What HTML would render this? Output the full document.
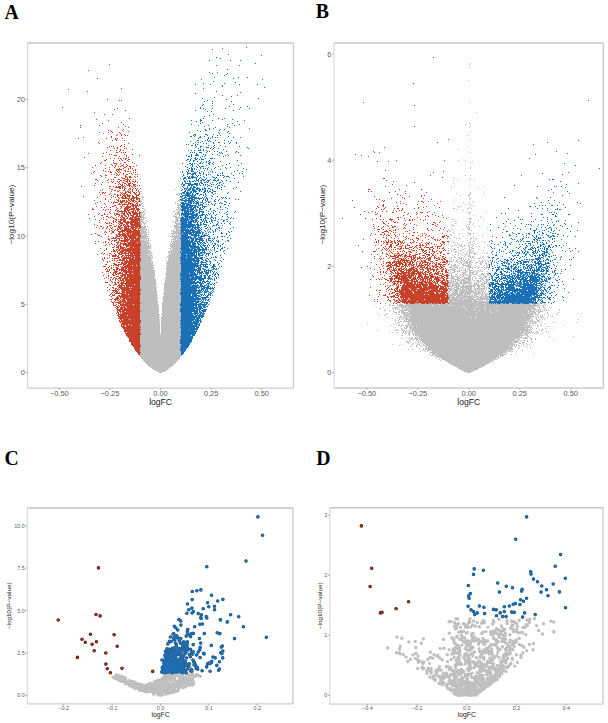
<!DOCTYPE html><html><head><meta charset="utf-8"><style>html,body{margin:0;padding:0;background:#fff}svg{display:block;font-family:"Liberation Sans",sans-serif}</style></head><body><svg width="608" height="723" viewBox="0 0 608 723"><rect width="608" height="723" fill="#fff"/><path d="M470 63.5h1M469 64.5h1M469 67.5h1M468 80.5h1M469 102.5h1M476 112.5h1M469 123.5h1M465 124.5h1M470 125.5h1M469 127.5h1M470 131.5h1M468 135.5h1M470 139.5h1M468 146.5h1M458 149.5h1M470 152.5h1M462 158.5h1M458 160.5h1m6 0h1M472 161.5h1M470 162.5h1M470 167.5h1M470 168.5h1M180 172.5h1M465 175.5h1m4 0h1M140 178.5h1m313 0h1m14 0h1M470 179.5h1M453 180.5h1m3 0h1m16 0h1M179 181.5h1M179 183.5h1m273 0h1M454 185.5h1m14 0h1M484 186.5h1M180 187.5h1m270 0h1m26 0h1M175 189.5h1M140 191.5h2M470 192.5h1M141 193.5h1m36 0h3m275 0h1m13 0h1m12 0h1M176 194.5h2m1 0h1m289 0h1M178 195.5h1m281 0h1m7 0h2M142 196.5h1M141 197.5h3m33 0h1m2 0h1m288 0h1M454 198.5h1m15 0h1M142 199.5h1m36 0h1m289 0h1M140 200.5h1m37 0h3M140 201.5h2m35 0h1m1 0h1m273 0h1m18 0h1M140 202.5h1m34 0h1m4 0h1m282 0h1m5 0h1m3 0h1M141 203.5h2m32 0h1m1 0h2M140 204.5h2m35 0h1m287 0h1m3 0h1M140 205.5h1m36 0h4m290 0h1m1 0h1M142 206.5h2m34 0h1m1 0h1m277 0h1m2 0h1M177 207.5h3m279 0h1m9 0h1M142 208.5h2m34 0h3m272 0h2m12 0h2m2 0h1M144 209.5h1m31 0h3m1 0h1m275 0h1M177 210.5h1m1 0h2m282 0h1M143 211.5h2m28 0h2m3 0h2m306 0h1M141 212.5h3m32 0h5m286 0h1m1 0h2M140 213.5h1m1 0h1m1 0h1m30 0h1m1 0h3m289 0h1M140 214.5h2m1 0h2m30 0h5m289 0h1M140 215.5h2m1 0h1m30 0h1m4 0h2m292 0h1M141 216.5h1m1 0h1m29 0h4m2 0h1m301 0h1M141 217.5h4m30 0h5m268 0h1m31 0h1M141 218.5h1m1 0h1m1 0h1m30 0h3m289 0h1m1 0h2M140 219.5h4m31 0h3m2 0h1m271 0h1m1 0h1m14 0h2m12 0h1M140 220.5h3m3 0h1m29 0h4m298 0h1M140 221.5h3m4 0h1m25 0h1m1 0h3m2 0h1m274 0h1m13 0h2M140 222.5h1m1 0h2m1 0h1m28 0h2m1 0h1m1 0h2m275 0h1m13 0h1M140 223.5h2m1 0h3m29 0h6m274 0h1m13 0h1m3 0h1M140 224.5h2m2 0h1m31 0h5m271 0h1m14 0h1m1 0h1m2 0h1M144 225.5h1m28 0h5m1 0h2m270 0h1m1 0h2M141 226.5h2m1 0h2m1 0h1m22 0h1m3 0h5m1 0h1m285 0h1m1 0h1m5 0h1m4 0h1M141 227.5h5m28 0h6m271 0h1m16 0h2M140 228.5h5m30 0h6m286 0h1m1 0h1m17 0h1M140 229.5h7m1 0h1m25 0h1m1 0h3m1 0h1m267 0h1m3 0h1m10 0h1m4 0h2M140 230.5h4m1 0h2m25 0h2m2 0h4m269 0h1m21 0h1M141 231.5h5m2 0h1m22 0h1m1 0h8m269 0h1M140 232.5h7m1 0h1m24 0h8m272 0h1m13 0h1M140 233.5h5m1 0h1m24 0h9m282 0h1m5 0h3m2 0h1M140 234.5h3m1 0h3m1 0h1m23 0h2m2 0h1m1 0h3m269 0h1m8 0h1m9 0h2m12 0h1M141 235.5h6m25 0h1m1 0h7m270 0h1m15 0h1M141 236.5h8m19 0h1m1 0h11m282 0h1m9 0h1m8 0h1M140 237.5h7m25 0h1m1 0h7m268 0h1m4 0h1m4 0h1M140 238.5h9m24 0h7m270 0h1m5 0h1m3 0h1m9 0h2m1 0h1m2 0h1M140 239.5h2m1 0h2m1 0h1m1 0h1m22 0h5m1 0h4m289 0h1m4 0h1M140 240.5h5m1 0h3m1 0h1m20 0h1m2 0h7m271 0h1m14 0h1m5 0h1M140 241.5h7m1 0h1m22 0h10m281 0h1m7 0h1m3 0h1m7 0h1M141 242.5h8m22 0h1m1 0h8m267 0h1m4 0h2m14 0h2m1 0h1m11 0h1M140 243.5h10m20 0h1m1 0h9m276 0h1m10 0h1m5 0h1M141 244.5h6m1 0h1m1 0h1m19 0h11m267 0h1m6 0h1m2 0h1m2 0h1m8 0h1m1 0h1M141 245.5h8m1 0h1m18 0h1m1 0h10m271 0h1m1 0h1m1 0h1m2 0h1m1 0h1m2 0h2m2 0h2m3 0h1m13 0h1M140 246.5h11m19 0h11m270 0h1m8 0h3m5 0h1m3 0h1m3 0h1m2 0h1M140 247.5h11m20 0h10m276 0h2m10 0h1m1 0h1m12 0h1M140 248.5h11m18 0h2m1 0h8m268 0h1m1 0h1m3 0h1m9 0h1m4 0h1m2 0h2M141 249.5h7m23 0h1m1 0h8m272 0h3m6 0h2m5 0h1m1 0h1m6 0h1M140 250.5h11m19 0h11m267 0h1m2 0h1m1 0h1m4 0h1m1 0h2m7 0h2m2 0h1m9 0h1M140 251.5h10m18 0h12m268 0h1m2 0h1m3 0h2m10 0h1m1 0h2m1 0h1M141 252.5h11m16 0h2m1 0h9m274 0h2m2 0h1m4 0h1m5 0h3m2 0h1m7 0h1m4 0h1M140 253.5h10m1 0h1m17 0h12m268 0h1m8 0h1m1 0h1m5 0h2m1 0h1m3 0h4m7 0h1m2 0h1M140 254.5h8m1 0h2m1 0h1m16 0h12m274 0h1m5 0h1m2 0h1m1 0h1m2 0h1m4 0h1M141 255.5h8m1 0h2m16 0h13m271 0h1m5 0h1m3 0h1m2 0h1m2 0h2M140 256.5h11m1 0h1m14 0h14m273 0h1m9 0h1m3 0h3m1 0h2m9 0h1m3 0h2M140 257.5h12m14 0h1m2 0h11m269 0h1m1 0h1m2 0h2m2 0h2m1 0h1m3 0h1m4 0h1m1 0h2m6 0h1m1 0h1m5 0h1M141 258.5h10m1 0h1m15 0h12m271 0h1m7 0h3m1 0h1m4 0h1m2 0h1m2 0h1m3 0h2m3 0h1m4 0h1M141 259.5h11m16 0h13m268 0h1m3 0h1m3 0h2m2 0h1m1 0h1m1 0h1m2 0h2m14 0h1M141 260.5h11m14 0h1m1 0h12m271 0h1m1 0h1m2 0h1m3 0h2m2 0h1m2 0h1m2 0h2m1 0h1m5 0h1m2 0h1m4 0h1M140 261.5h11m1 0h1m14 0h14m267 0h4m3 0h3m1 0h1m2 0h3m1 0h2m1 0h2m10 0h2m2 0h1m2 0h1M140 262.5h13m14 0h14m271 0h1m4 0h1m2 0h2m3 0h3m1 0h4m3 0h2m2 0h1m1 0h1m5 0h1M140 263.5h13m13 0h14m269 0h1m9 0h1m1 0h1m1 0h2m1 0h2m1 0h2m4 0h1m4 0h2m3 0h2M140 264.5h13m14 0h14m270 0h1m2 0h2m6 0h2m4 0h2m1 0h1m8 0h2m4 0h1m1 0h1M140 265.5h15m11 0h15m270 0h1m1 0h3m1 0h2m4 0h3m1 0h4m4 0h1m8 0h1m2 0h1M140 266.5h13m14 0h14m268 0h1m1 0h1m1 0h2m1 0h1m6 0h1m2 0h5m5 0h1m1 0h1m7 0h1M141 267.5h13m12 0h15m268 0h3m2 0h4m1 0h1m1 0h2m5 0h5m1 0h2m2 0h1m3 0h1m1 0h1m1 0h3M140 268.5h14m12 0h15m271 0h2m3 0h1m1 0h1m2 0h1m2 0h1m1 0h1m1 0h1m2 0h1m5 0h1m6 0h1m2 0h1M141 269.5h12m13 0h15m268 0h7m4 0h1m4 0h1m2 0h2m14 0h1m3 0h1M140 270.5h15m12 0h14m272 0h2m2 0h1m1 0h1m1 0h1m1 0h3m1 0h1m1 0h4m4 0h2m1 0h1M140 271.5h15m11 0h15m269 0h1m3 0h2m1 0h3m5 0h2m2 0h2m2 0h2m1 0h1m2 0h1m1 0h2m4 0h1M140 272.5h15m11 0h15m267 0h1m1 0h1m1 0h3m7 0h4m3 0h5m2 0h2m10 0h1M140 273.5h15m11 0h14m268 0h2m1 0h1m5 0h1m5 0h1m1 0h2m2 0h2m1 0h2m2 0h1m4 0h2m1 0h1m1 0h3M140 274.5h15m10 0h15m271 0h1m3 0h2m3 0h5m2 0h1m1 0h2m1 0h1m1 0h3m4 0h3m3 0h2M140 275.5h15m11 0h14m269 0h1m1 0h1m5 0h1m2 0h1m2 0h1m1 0h3m1 0h1m1 0h1m6 0h1m1 0h1m2 0h2m2 0h2M141 276.5h14m11 0h15m267 0h1m2 0h3m1 0h3m1 0h1m2 0h2m4 0h3m2 0h2m4 0h1m1 0h1m2 0h3M141 277.5h13m11 0h15m270 0h4m3 0h2m1 0h1m1 0h1m1 0h2m1 0h4m1 0h1m7 0h1m2 0h1m1 0h2M141 278.5h14m10 0h16m267 0h2m1 0h3m3 0h3m2 0h1m1 0h7m1 0h1m2 0h2m2 0h5M141 279.5h15m8 0h1m1 0h14m271 0h1m1 0h6m1 0h1m1 0h3m1 0h5m1 0h1m8 0h2m2 0h4M140 280.5h16m9 0h16m267 0h2m1 0h1m1 0h1m1 0h1m1 0h3m1 0h5m1 0h4m2 0h2m1 0h3m1 0h1m1 0h2m2 0h3M140 281.5h16m9 0h15m268 0h1m1 0h4m1 0h1m1 0h1m1 0h3m1 0h5m1 0h2m6 0h4m3 0h4M140 282.5h16m9 0h16m268 0h3m1 0h2m1 0h2m2 0h2m1 0h7m1 0h1m2 0h1m1 0h1m1 0h1m3 0h1m1 0h1m1 0h1m1 0h1M140 283.5h16m8 0h17m267 0h3m1 0h2m1 0h17m2 0h3m1 0h1m2 0h2m1 0h3m1 0h1M140 284.5h17m7 0h17m268 0h2m1 0h2m1 0h4m4 0h2m4 0h2m1 0h1m1 0h1m1 0h3m2 0h4m2 0h2M140 285.5h16m8 0h17m267 0h2m1 0h6m1 0h3m1 0h2m1 0h7m1 0h3m1 0h4m2 0h1m4 0h1M140 286.5h16m8 0h17m268 0h4m1 0h1m1 0h4m1 0h14m2 0h3m1 0h5m1 0h1M140 287.5h17m7 0h17m267 0h1m2 0h1m2 0h5m1 0h12m2 0h1m3 0h2m4 0h1m1 0h1m1 0h1M140 288.5h17m7 0h17m268 0h3m1 0h2m1 0h5m1 0h2m1 0h7m1 0h1m1 0h10m1 0h1m1 0h1M141 289.5h15m8 0h16m269 0h4m1 0h5m1 0h1m1 0h10m2 0h2m1 0h3m1 0h1m1 0h2m1 0h1m1 0h1M141 290.5h16m7 0h17m268 0h3m1 0h5m1 0h6m1 0h1m1 0h5m1 0h3m1 0h1m1 0h2m1 0h1M140 291.5h17m7 0h17m267 0h2m2 0h1m1 0h4m2 0h14m1 0h1m1 0h3m1 0h3m1 0h1m2 0h1M140 292.5h17m7 0h16m268 0h1m1 0h1m2 0h5m1 0h5m1 0h12m1 0h3m1 0h1m1 0h1m3 0h1M141 293.5h16m6 0h17m269 0h1m1 0h7m1 0h12m3 0h7m1 0h4m1 0h1M140 294.5h17m6 0h17m268 0h2m1 0h12m1 0h2m1 0h4m1 0h1m1 0h5m2 0h2m2 0h4M140 295.5h18m6 0h17m267 0h8m1 0h11m1 0h1m1 0h2m1 0h3m2 0h1m1 0h2m1 0h3m2 0h1M140 296.5h17m6 0h18m267 0h3m1 0h2m2 0h5m1 0h13m1 0h3m1 0h2m1 0h6M140 297.5h18m5 0h18m268 0h24m1 0h3m1 0h6m1 0h3M140 298.5h18m5 0h18m268 0h1m1 0h8m1 0h5m2 0h7m3 0h2m1 0h9M140 299.5h17m6 0h18m267 0h15m1 0h26M140 300.5h18m5 0h18m267 0h24m1 0h4m2 0h2m1 0h1m3 0h2M140 301.5h18m5 0h18m268 0h4m1 0h19m1 0h12m1 0h2M140 302.5h18m4 0h19m267 0h41M141 303.5h17m4 0h18m205 0h1m9 0h1m4 0h1m4 0h1m2 0h2m5 0h2m1 0h3m4 0h1m3 0h1m1 0h1m2 0h1m2 0h1m3 0h1m3 0h3m1 0h35m1 0h4m1 0h1m1 0h1m1 0h1m1 0h1m4 0h2m2 0h1m4 0h2m3 0h1m4 0h1m1 0h1m6 0h3m1 0h1m3 0h2m1 0h1m3 0h1M140 304.5h18m4 0h18m209 0h1m7 0h1m1 0h4m1 0h1m1 0h33m1 0h91m1 0h4m1 0h2m5 0h1M140 305.5h19m3 0h18m194 0h1m10 0h1m3 0h2m1 0h3m2 0h1m1 0h5m1 0h27m1 0h16m1 0h1m1 0h86m1 0h2m1 0h2m1 0h1M140 306.5h18m4 0h19m218 0h64m1 0h13m1 0h7m1 0h11m1 0h39m1 0h1m4 0h1M140 307.5h19m3 0h19m202 0h1m10 0h5m2 0h6m1 0h1m1 0h54m1 0h10m1 0h58m4 0h2m1 0h1m1 0h2m4 0h1m1 0h1M140 308.5h19m3 0h18m199 0h2m11 0h2m1 0h1m1 0h1m4 0h2m2 0h78m1 0h41m1 0h9m3 0h1m5 0h1M140 309.5h19m3 0h18m205 0h1m9 0h1m1 0h1m1 0h1m2 0h1m1 0h5m1 0h56m1 0h7m1 0h56m1 0h5m1 0h1m1 0h1m3 0h1m1 0h1m12 0h1M140 310.5h19m3 0h18m204 0h1m5 0h1m2 0h1m6 0h79m1 0h5m1 0h4m1 0h6m1 0h34m2 0h1m2 0h2m1 0h1m2 0h2m1 0h1m1 0h1m10 0h1M141 311.5h18m3 0h18m209 0h1m3 0h1m4 0h2m1 0h3m4 0h120m1 0h6m1 0h1m1 0h5M140 312.5h19m3 0h19m213 0h3m1 0h2m1 0h7m1 0h67m1 0h14m1 0h38m1 0h5m2 0h2m7 0h1m10 0h1M140 313.5h19m3 0h19m196 0h1m9 0h1m8 0h1m5 0h4m1 0h121m1 0h4m1 0h2m2 0h1m8 0h1m8 0h1m24 0h1M140 314.5h19m2 0h20m204 0h2m11 0h2m3 0h120m1 0h10m1 0h3m6 0h1m12 0h1M140 315.5h20m2 0h19m198 0h1m4 0h1m16 0h1m2 0h6m1 0h120m1 0h1m4 0h1m2 0h1m1 0h1m5 0h1M140 316.5h19m3 0h19m216 0h1m2 0h2m1 0h2m1 0h70m1 0h57m1 0h1m2 0h1m2 0h2m7 0h1m1 0h1M140 317.5h20m1 0h19m206 0h1m1 0h1m10 0h3m2 0h3m2 0h62m1 0h57m1 0h2m1 0h1m2 0h1m1 0h1m1 0h2m1 0h1m1 0h1m1 0h1M140 318.5h19m2 0h20m211 0h1m4 0h1m1 0h1m2 0h2m1 0h3m1 0h66m1 0h55m4 0h2m4 0h1M140 319.5h20m1 0h20m214 0h1m3 0h1m1 0h1m1 0h1m1 0h125m1 0h2m3 0h1m2 0h1m2 0h1m1 0h1m33 0h1M141 320.5h19m1 0h19m215 0h1m2 0h1m5 0h1m1 0h1m1 0h121m1 0h3m4 0h3M141 321.5h18m2 0h20m219 0h2m1 0h124m1 0h3m1 0h4m1 0h2m2 0h1M141 322.5h19m1 0h19m215 0h1m2 0h2m8 0h1m2 0h117m1 0h1m1 0h2m1 0h3m15 0h1m2 0h1m20 0h1M140 323.5h20m1 0h20m186 0h1m29 0h1m9 0h4m1 0h116m1 0h2m1 0h2m1 0h1m4 0h1m3 0h1M140 324.5h20m1 0h19m213 0h1m2 0h1m2 0h1m1 0h1m6 0h1m1 0h116m1 0h1m1 0h1m3 0h1m3 0h1M140 325.5h20m1 0h20m210 0h1m6 0h2m2 0h1m2 0h5m1 0h115m1 0h4m1 0h1m2 0h1m1 0h1m2 0h2m22 0h1M140 326.5h20m1 0h20m219 0h2m4 0h2m1 0h3m1 0h3m1 0h107m1 0h5m1 0h1m5 0h1m8 0h1m1 0h1M141 327.5h19m1 0h19m215 0h1m8 0h1m1 0h2m1 0h123M140 328.5h20m1 0h20m220 0h1m2 0h3m3 0h115m1 0h2m2 0h1m1 0h1m3 0h1m8 0h1M141 329.5h19m1 0h20m215 0h1m4 0h2m6 0h2m1 0h118m1 0h1m7 0h1m2 0h1m10 0h1M140 330.5h20m1 0h20m196 0h1m17 0h1m1 0h2m3 0h3m1 0h1m4 0h117m1 0h2m10 0h2M140 331.5h20m1 0h20m222 0h1m1 0h1m1 0h4m1 0h1m1 0h106m1 0h4m1 0h3m2 0h1m4 0h2m8 0h1M140 332.5h20m1 0h19m209 0h1m2 0h1m4 0h1m5 0h1m1 0h1m3 0h1m2 0h1m1 0h110m1 0h7m1 0h1m1 0h1m1 0h1m10 0h1M141 333.5h19m1 0h20m221 0h1m2 0h2m1 0h2m2 0h2m1 0h108m1 0h3m1 0h1m3 0h1m1 0h1m1 0h1m1 0h1m3 0h1M141 334.5h40m227 0h2m3 0h4m1 0h103m1 0h1m1 0h4M140 335.5h41m220 0h2m6 0h1m3 0h1m1 0h109m2 0h2M140 336.5h40m236 0h1m1 0h102m1 0h1m5 0h2m20 0h1m23 0h1M140 337.5h41m225 0h1m2 0h1m2 0h1m2 0h1m1 0h1m1 0h104m2 0h2m2 0h1M140 338.5h41m220 0h1m1 0h1m4 0h1m1 0h3m1 0h6m1 0h98m4 0h5m2 0h2m3 0h1M140 339.5h40m230 0h1m2 0h1m2 0h2m1 0h96m2 0h3m11 0h1m3 0h1m17 0h1M140 340.5h40m229 0h1m3 0h1m2 0h1m1 0h1m1 0h97m1 0h1m2 0h1m1 0h2m2 0h1m3 0h1M140 341.5h40m226 0h2m1 0h1m7 0h2m1 0h1m1 0h91m1 0h5m1 0h1m6 0h1m3 0h1M140 342.5h40m227 0h2m1 0h1m4 0h1m2 0h1m3 0h96m1 0h1m2 0h3m7 0h1M140 343.5h40m228 0h1m4 0h1m3 0h1m2 0h1m1 0h1m1 0h89m1 0h1m4 0h2m1 0h1m3 0h1M140 344.5h41m211 0h1m8 0h1m10 0h1m4 0h3m3 0h1m1 0h90m1 0h1m6 0h1m3 0h1m1 0h1M141 345.5h40m218 0h1m11 0h1m4 0h1m3 0h2m1 0h2m1 0h87m1 0h1m1 0h1m1 0h2m1 0h1m2 0h1M141 346.5h39m230 0h1m5 0h2m4 0h1m2 0h2m1 0h82m1 0h2m1 0h1m12 0h1M140 347.5h41m244 0h1m1 0h85m3 0h1m3 0h1m5 0h1m4 0h1M140 348.5h40m239 0h1m3 0h1m1 0h2m1 0h85m5 0h1M140 349.5h40m228 0h1m3 0h1m10 0h1m1 0h83m1 0h4M140 350.5h40m242 0h1m1 0h1m2 0h3m1 0h77m1 0h2m11 0h1M140 351.5h41m239 0h1m4 0h1m1 0h1m2 0h1m1 0h75m1 0h2m1 0h2M141 352.5h40m249 0h76M140 353.5h41m249 0h1m1 0h71m2 0h2m9 0h1m16 0h1M140 354.5h41m248 0h1m2 0h4m1 0h69m5 0h1M139 355.5h43m249 0h2m2 0h64m1 0h4M140 356.5h41m253 0h1m1 0h63m1 0h1m1 0h1M141 357.5h39m257 0h1m1 0h58m1 0h2M141 358.5h39m256 0h1m4 0h55m1 0h1M143 359.5h36m260 0h1m2 0h52m1 0h2M143 360.5h35m262 0h1m4 0h49M144 361.5h33m269 0h46M145 362.5h31m272 0h42m2 0h1M146 363.5h29m274 0h40M147 364.5h27m277 0h36M148 365.5h25m280 0h32M149 366.5h23m283 0h29M151 367.5h19m287 0h24M152 368.5h17m289 0h21M153 369.5h15m292 0h18M155 370.5h11m296 0h13M157 371.5h8m299 0h9M159 372.5h3m305 0h4" stroke="#bebebe" stroke-width="1" fill="none"/><path d="M433 57.5h1M109 64.5h1M88 70.5h1M97 78.5h1M413 83.5h1M121 88.5h1M68 89.5h1M87 91.5h1M107 99.5h1M119 100.5h1m1 0h1M363 102.5h1M414 105.5h1M62 107.5h1M117 108.5h1M114 109.5h1M125 110.5h1M94 112.5h1M104 114.5h1m7 0h1M129 118.5h1M96 119.5h1M108 120.5h1M121 122.5h1M102 123.5h1M123 124.5h1M80 125.5h1m18 0h1M125 126.5h1m288 0h1M80 127.5h1m37 0h1m9 0h1M123 129.5h1M108 130.5h1m1 0h1m11 0h1M111 131.5h1m16 0h1M99 132.5h1m8 0h1m3 0h1m6 0h1M103 133.5h1m16 0h1M117 134.5h1m3 0h1m2 0h1M116 135.5h1m4 0h1m3 0h1m1 0h1M111 136.5h1M83 137.5h1m27 0h1M78 138.5h1m27 0h1m8 0h1m1 0h1m4 0h1M115 139.5h2m331 0h1M112 140.5h1m3 0h1m7 0h1M98 142.5h1m338 0h1M99 143.5h1m28 0h1M124 144.5h1M121 145.5h1M109 146.5h1m1 0h1m1 0h1m6 0h1m3 0h1M107 147.5h1m9 0h1m266 0h1M114 148.5h1m2 0h1m6 0h1m1 0h1M120 149.5h1m11 0h1M110 150.5h1m5 0h1m3 0h1m2 0h1M119 151.5h1m253 0h1M106 152.5h1m9 0h2m3 0h1m1 0h1m1 0h1m248 0h1m4 0h1M88 153.5h1m14 0h1M109 154.5h1m1 0h1m12 0h1m7 0h1m222 0h1M114 155.5h3m9 0h1m12 0h1m221 0h1M102 156.5h1m16 0h1m6 0h1m241 0h1M84 157.5h1m43 0h1M110 158.5h1m3 0h1m3 0h1m1 0h1m2 0h1m1 0h2M106 159.5h1m14 0h1m3 0h1m2 0h2M104 160.5h2m7 0h1m5 0h1m2 0h1m4 0h1m268 0h1m47 0h1M128 161.5h1m248 0h1m10 0h1M101 162.5h1m11 0h1m10 0h2m6 0h1M100 163.5h1m13 0h3m3 0h1m13 0h1M111 164.5h1m4 0h1m6 0h1m2 0h1M95 165.5h1m9 0h1m6 0h1m2 0h1m5 0h2m4 0h1m8 0h1M115 166.5h1m2 0h1m1 0h1m2 0h1m2 0h1m2 0h2m2 0h1M92 167.5h1m16 0h1m4 0h1m9 0h2m4 0h1M105 168.5h1m13 0h1m3 0h1m4 0h1m1 0h1m1 0h1M109 169.5h1m6 0h6m6 0h1m6 0h1M103 170.5h1m12 0h1m1 0h1m5 0h2m7 0h1m1 0h1m249 0h1M94 171.5h1m10 0h1m2 0h1m1 0h1m6 0h1m1 0h1m5 0h1m1 0h2m1 0h1m312 0h1M93 172.5h1m16 0h2m3 0h1m2 0h1m1 0h1m12 0h1m1 0h1m297 0h1M91 173.5h1m24 0h1m6 0h1m5 0h1m1 0h1M111 174.5h1m2 0h1m2 0h1m1 0h1m3 0h1m2 0h2m4 0h1m2 0h1m1 0h1M100 175.5h1m4 0h2m9 0h1m1 0h1m6 0h1m304 0h1M101 176.5h1m23 0h2m2 0h2m3 0h1m2 0h1M105 177.5h1m8 0h2m5 0h1m3 0h1m1 0h1m1 0h3m3 0h1m306 0h1M122 178.5h3m2 0h1m255 0h2M95 179.5h2m11 0h1m2 0h1m1 0h1m4 0h2m5 0h4m1 0h1m2 0h1M97 180.5h1m9 0h1m12 0h2m1 0h2m2 0h1m1 0h1m5 0h1m250 0h1M111 181.5h1m1 0h1m3 0h1m1 0h1m5 0h3m1 0h1m2 0h2m1 0h1m257 0h1M102 182.5h1m5 0h1m3 0h1m5 0h1m3 0h2m3 0h1m2 0h1m3 0h1m2 0h1m276 0h1M95 183.5h1m19 0h1m3 0h1m4 0h2m2 0h3m1 0h1M101 184.5h1m16 0h1m1 0h1m1 0h1m3 0h1m1 0h2m3 0h3m256 0h1M94 185.5h1m26 0h2m1 0h1m2 0h4m2 0h2m2 0h1m1 0h1m266 0h1M81 186.5h1m27 0h2m2 0h1m2 0h1m1 0h3m1 0h2m1 0h1m3 0h1m1 0h1m2 0h2m249 0h1M115 187.5h6m1 0h1m1 0h1m7 0h1M109 188.5h1m9 0h2m1 0h1m1 0h2m3 0h2m2 0h1m1 0h1m1 0h1m2 0h1M102 189.5h1m8 0h2m11 0h1m3 0h1m1 0h1m1 0h1m3 0h1m231 0h2m29 0h1m21 0h1M100 190.5h1m13 0h2m3 0h1m3 0h2m4 0h1m2 0h1m3 0h1m1 0h1M111 191.5h1m5 0h2m6 0h1m1 0h2m1 0h1m1 0h1m5 0h1m229 0h1m2 0h1m23 0h1m9 0h1M99 192.5h1m2 0h2m1 0h1m14 0h1m1 0h1m2 0h2m1 0h3m2 0h2m1 0h1m2 0h1m249 0h1m36 0h1M102 193.5h1m1 0h1m5 0h1m10 0h1m1 0h3m4 0h1m3 0h2m3 0h1m265 0h1M100 194.5h1m8 0h1m4 0h2m1 0h1m2 0h1m1 0h1m1 0h1m1 0h2m7 0h2m1 0h2m257 0h1M105 195.5h1m5 0h1m5 0h2m1 0h1m2 0h3m1 0h4m1 0h1m3 0h3m261 0h1m20 0h1m2 0h1M83 196.5h1m29 0h1m3 0h1m4 0h1m1 0h2m1 0h3m2 0h2m2 0h1m237 0h1m34 0h1m11 0h1M97 197.5h1m13 0h1m3 0h1m2 0h1m2 0h3m1 0h2m2 0h1m2 0h6m264 0h1M105 198.5h1m13 0h1m2 0h8m1 0h4m1 0h4m251 0h1m12 0h1m18 0h1M105 199.5h1m4 0h1m5 0h1m1 0h1m9 0h1m1 0h2m1 0h1m2 0h2m1 0h1m236 0h1m2 0h1m51 0h1M94 200.5h1m22 0h2m1 0h1m1 0h3m1 0h1m1 0h2m1 0h4m4 0h1m212 0h1m29 0h1m1 0h1M100 201.5h1m7 0h1m5 0h1m3 0h1m1 0h5m1 0h2m2 0h1m1 0h2m1 0h2m1 0h2m243 0h1m16 0h1m17 0h1m2 0h2m5 0h1m11 0h1M97 202.5h1m13 0h1m1 0h1m1 0h3m2 0h3m2 0h2m1 0h2m4 0h1m2 0h1m258 0h1m26 0h1M95 203.5h1m8 0h1m8 0h1m5 0h1m1 0h1m2 0h1m3 0h5m3 0h2m262 0h1m2 0h1m33 0h1M105 204.5h1m12 0h3m1 0h7m1 0h1m1 0h2m1 0h1m1 0h1m1 0h1m243 0h1m22 0h1m10 0h1M114 205.5h2m6 0h1m4 0h1m3 0h7m1 0h1m242 0h2m50 0h1M96 206.5h1m9 0h1m5 0h2m6 0h2m2 0h1m1 0h5m1 0h2m1 0h2m1 0h1m238 0h1m5 0h1m13 0h1m28 0h1M101 207.5h1m2 0h1m5 0h1m5 0h1m4 0h1m3 0h6m2 0h1m1 0h2m217 0h1m23 0h1m6 0h1m32 0h1m4 0h1m15 0h1M92 208.5h1m24 0h1m2 0h1m3 0h5m2 0h4m1 0h3m237 0h1m7 0h1m9 0h1m2 0h2m3 0h1m11 0h1m3 0h1M92 209.5h2m9 0h1m2 0h1m1 0h1m1 0h1m5 0h1m7 0h4m1 0h6m1 0h4m241 0h1m1 0h1m18 0h1M105 210.5h1m9 0h1m1 0h2m2 0h1m2 0h2m1 0h3m3 0h1m1 0h1m1 0h2m254 0h1m5 0h1m1 0h1M110 211.5h1m6 0h1m1 0h8m1 0h1m2 0h3m1 0h1m1 0h1m1 0h1m224 0h1m7 0h1m9 0h1m3 0h1m9 0h1m32 0h1M109 212.5h1m8 0h1m3 0h1m1 0h1m1 0h1m1 0h3m1 0h5m2 0h2m227 0h1m6 0h1m16 0h2m10 0h1m11 0h1m3 0h3m4 0h1m6 0h1M99 213.5h1m4 0h1m5 0h1m3 0h1m1 0h2m3 0h4m1 0h2m1 0h2m1 0h8m237 0h1m30 0h1m8 0h1M88 214.5h1m9 0h1m5 0h1m2 0h1m6 0h1m1 0h4m3 0h2m2 0h2m1 0h1m2 0h5m1 0h1m220 0h1m14 0h2m30 0h1m8 0h1m15 0h1M101 215.5h2m12 0h1m3 0h1m1 0h2m1 0h2m2 0h1m1 0h4m2 0h2m1 0h1m240 0h1m22 0h1m23 0h1m7 0h1m6 0h1M94 216.5h1m11 0h2m3 0h1m6 0h1m2 0h2m2 0h2m1 0h1m3 0h2m1 0h6m239 0h1m29 0h1m14 0h1m2 0h1m9 0h1M103 217.5h1m4 0h1m1 0h1m1 0h1m3 0h1m3 0h1m1 0h3m2 0h1m2 0h7m1 0h1m1 0h1m256 0h2m1 0h1m16 0h1m25 0h1M89 218.5h1m11 0h1m11 0h2m6 0h1m1 0h2m1 0h2m1 0h4m1 0h6m202 0h1m22 0h1m10 0h1m13 0h1m13 0h1m41 0h1M95 219.5h1m7 0h1m2 0h1m8 0h2m1 0h1m1 0h6m3 0h11m232 0h1m7 0h1m2 0h1m5 0h4m5 0h1m10 0h1m2 0h1m1 0h1m5 0h1m4 0h1M99 220.5h1m13 0h1m2 0h1m3 0h2m1 0h3m5 0h9m251 0h1m13 0h1m3 0h2m1 0h1m10 0h1M113 221.5h1m1 0h1m2 0h3m2 0h3m1 0h2m1 0h8m1 0h1m242 0h1m3 0h1m6 0h1m46 0h1M99 222.5h1m5 0h1m3 0h1m3 0h1m2 0h1m2 0h4m1 0h16m243 0h1m10 0h2m1 0h1m35 0h2m4 0h1M106 223.5h2m1 0h1m1 0h1m6 0h1m1 0h3m3 0h3m1 0h3m1 0h6m243 0h2m3 0h1m15 0h1m5 0h1m16 0h1m7 0h1M94 224.5h1m18 0h1m5 0h1m1 0h1m1 0h2m1 0h2m2 0h10m233 0h1m11 0h1m17 0h1m2 0h1m7 0h1m17 0h2m3 0h1M97 225.5h1m11 0h3m4 0h1m1 0h1m1 0h2m1 0h1m1 0h1m1 0h2m2 0h10m246 0h1m3 0h1m13 0h1m10 0h1m18 0h1M100 226.5h2m5 0h1m6 0h2m2 0h3m3 0h10m1 0h6m232 0h1m4 0h1m4 0h1m4 0h1m3 0h1m1 0h2m40 0h1M96 227.5h1m6 0h1m3 0h1m2 0h1m1 0h1m5 0h2m1 0h2m1 0h3m1 0h1m2 0h7m1 0h2m241 0h1m9 0h2m10 0h1m8 0h1m30 0h1M99 228.5h1m2 0h1m3 0h1m4 0h1m5 0h1m1 0h3m2 0h5m1 0h4m1 0h2m1 0h2m234 0h1m6 0h1m7 0h1m13 0h1m1 0h1m21 0h1m12 0h1M109 229.5h1m2 0h1m2 0h1m1 0h2m1 0h1m1 0h1m1 0h7m1 0h4m2 0h1m238 0h3m3 0h1m11 0h1m2 0h1m14 0h1m13 0h1m3 0h1m11 0h1M111 230.5h1m2 0h1m2 0h1m3 0h11m1 0h7m246 0h1m2 0h2m2 0h1m1 0h1m13 0h1m18 0h1m3 0h1m6 0h1M105 231.5h1m3 0h1m2 0h2m4 0h7m1 0h14m238 0h1m5 0h4m3 0h1m13 0h1m1 0h1m39 0h1M104 232.5h1m1 0h1m5 0h2m5 0h2m1 0h1m2 0h1m1 0h13m242 0h2m4 0h1m4 0h1m1 0h1m17 0h2m2 0h1M95 233.5h1m15 0h1m6 0h2m2 0h3m1 0h5m1 0h8m231 0h1m12 0h1m5 0h1m12 0h1m5 0h1m12 0h1m1 0h1m17 0h1M91 234.5h1m5 0h1m7 0h1m10 0h1m1 0h8m1 0h2m1 0h10m235 0h1m4 0h2m2 0h1m2 0h1m6 0h1m4 0h1m26 0h1M98 235.5h2m16 0h2m1 0h2m1 0h19m229 0h1m12 0h1m2 0h1m1 0h2m5 0h1m16 0h2m4 0h1m3 0h1m2 0h1m3 0h1m14 0h1m1 0h1M101 236.5h1m6 0h1m7 0h4m1 0h1m1 0h4m1 0h9m1 0h3m254 0h1m1 0h1m5 0h1m2 0h1m13 0h1m7 0h1m13 0h3m2 0h2M113 237.5h1m1 0h2m3 0h1m3 0h4m1 0h7m1 0h3m243 0h1m2 0h1m4 0h1m13 0h1m10 0h1m8 0h1m5 0h1m1 0h1m8 0h2M108 238.5h1m2 0h5m1 0h3m1 0h2m1 0h2m1 0h1m1 0h11m246 0h1m7 0h1m3 0h1m7 0h1m1 0h1m7 0h3m13 0h1m14 0h1M108 239.5h2m6 0h1m2 0h1m4 0h6m1 0h3m1 0h5m223 0h1m11 0h1m12 0h1m16 0h1m4 0h1m1 0h1m5 0h1m9 0h1m5 0h2m1 0h1m2 0h1M109 240.5h1m2 0h1m1 0h3m2 0h10m1 0h10m238 0h1m6 0h1m2 0h1m1 0h1m3 0h1m2 0h1m1 0h1m3 0h1m9 0h1m3 0h1m4 0h1m12 0h1m1 0h1m1 0h1M95 241.5h1m2 0h1m6 0h1m5 0h1m2 0h1m3 0h1m2 0h7m2 0h10m236 0h1m1 0h1m2 0h1m1 0h1m2 0h1m1 0h1m2 0h2m1 0h1m3 0h3m1 0h1m11 0h1m27 0h2m3 0h2M103 242.5h1m1 0h1m2 0h1m7 0h3m1 0h1m3 0h1m2 0h10m1 0h3m233 0h1m1 0h1m1 0h1m5 0h1m1 0h3m1 0h2m2 0h2m1 0h1m2 0h3m1 0h1m5 0h1m1 0h2m2 0h1m4 0h1m4 0h1m2 0h1m12 0h3M95 243.5h1m15 0h1m5 0h1m2 0h7m1 0h12m243 0h1m3 0h1m4 0h1m2 0h1m2 0h1m2 0h1m1 0h1m7 0h1m7 0h1m5 0h1m1 0h2m2 0h1m8 0h1m2 0h1M106 244.5h1m2 0h1m2 0h1m1 0h1m2 0h1m2 0h1m2 0h18m245 0h2m2 0h2m5 0h2m1 0h1m6 0h1m12 0h1m1 0h1m3 0h1m1 0h1m5 0h1m1 0h1m4 0h1m2 0h1M105 245.5h1m10 0h1m1 0h3m2 0h1m1 0h16m217 0h1m16 0h1m5 0h1m8 0h2m4 0h2m4 0h1m2 0h1m1 0h3m6 0h2m1 0h2m1 0h2m2 0h1m14 0h1M114 246.5h1m2 0h2m1 0h2m4 0h3m1 0h10m245 0h1m3 0h3m7 0h3m3 0h1m6 0h1m2 0h1m4 0h1m4 0h1m6 0h1m2 0h1m1 0h4M112 247.5h2m2 0h3m1 0h5m1 0h1m2 0h4m1 0h6m243 0h1m5 0h1m1 0h1m2 0h2m5 0h1m3 0h1m3 0h3m2 0h1m1 0h1m2 0h2m3 0h1m1 0h3m1 0h3m4 0h1m5 0h1M100 248.5h1m5 0h1m11 0h1m1 0h4m1 0h1m1 0h13m238 0h1m5 0h1m1 0h1m1 0h1m8 0h2m1 0h2m1 0h1m1 0h4m4 0h1m3 0h1m3 0h1m7 0h1m3 0h1m3 0h1m1 0h1m2 0h2M106 249.5h1m6 0h1m2 0h2m1 0h2m1 0h19m235 0h1m5 0h1m2 0h1m1 0h1m3 0h1m1 0h1m1 0h1m3 0h2m8 0h1m1 0h1m7 0h1m1 0h3m5 0h2m1 0h1m11 0h1M104 250.5h1m8 0h2m1 0h1m1 0h2m1 0h19m241 0h1m4 0h1m2 0h1m13 0h1m8 0h3m1 0h1m5 0h2m1 0h2m5 0h1m4 0h1m5 0h1m1 0h1M111 251.5h1m1 0h3m1 0h1m2 0h4m1 0h6m1 0h8m222 0h1m10 0h3m12 0h1m1 0h1m2 0h1m3 0h1m2 0h1m1 0h1m1 0h1m3 0h3m11 0h1m1 0h2m3 0h1m2 0h3m1 0h1m2 0h1m1 0h1M102 252.5h1m14 0h1m1 0h4m1 0h2m2 0h13m241 0h1m8 0h1m6 0h1m7 0h1m3 0h2m4 0h1m6 0h1m2 0h1m2 0h1m4 0h1m5 0h2M101 253.5h1m2 0h1m4 0h2m3 0h1m3 0h2m1 0h8m1 0h10m242 0h1m3 0h1m2 0h1m2 0h1m2 0h1m1 0h2m4 0h1m2 0h1m2 0h1m9 0h2m3 0h2m5 0h1m1 0h1m3 0h1m2 0h1m6 0h2M97 254.5h1m5 0h1m3 0h1m3 0h1m3 0h1m3 0h3m3 0h1m2 0h1m1 0h3m1 0h6m231 0h1m5 0h1m8 0h2m6 0h1m2 0h1m1 0h1m1 0h2m2 0h1m3 0h2m4 0h3m1 0h1m6 0h4m2 0h1m10 0h2M109 255.5h1m2 0h5m1 0h1m3 0h2m1 0h16m247 0h1m1 0h1m3 0h3m1 0h4m2 0h3m2 0h1m2 0h4m6 0h3m3 0h2m2 0h2m1 0h1m4 0h1M112 256.5h4m1 0h2m2 0h2m1 0h1m1 0h1m1 0h1m1 0h4m1 0h5m234 0h1m5 0h1m5 0h1m3 0h6m1 0h2m1 0h1m1 0h1m1 0h2m1 0h5m1 0h1m1 0h1m3 0h1m5 0h1m1 0h1m3 0h1m2 0h1m7 0h2M104 257.5h1m4 0h1m8 0h2m1 0h1m1 0h8m1 0h8m249 0h1m5 0h4m5 0h1m1 0h1m3 0h2m1 0h3m1 0h1m1 0h2m2 0h1m1 0h1m3 0h2m3 0h2m2 0h1m3 0h1m2 0h1M102 258.5h1m1 0h1m2 0h1m4 0h1m1 0h5m3 0h12m1 0h6m233 0h1m4 0h1m1 0h1m1 0h1m4 0h1m3 0h4m3 0h3m1 0h1m1 0h1m2 0h1m2 0h1m1 0h2m2 0h3m1 0h2m1 0h1m2 0h4m3 0h1m1 0h2m1 0h1m3 0h2M102 259.5h1m11 0h1m4 0h2m1 0h3m1 0h1m2 0h12m239 0h1m14 0h1m1 0h2m2 0h4m1 0h1m4 0h3m1 0h1m1 0h1m2 0h1m5 0h1m1 0h3m7 0h2m1 0h2m1 0h2M103 260.5h1m8 0h1m1 0h1m2 0h1m1 0h6m1 0h2m1 0h12m253 0h1m3 0h1m1 0h10m1 0h1m2 0h2m5 0h1m1 0h3m2 0h2m5 0h3m4 0h1m3 0h2M107 261.5h1m1 0h1m6 0h1m5 0h1m1 0h16m243 0h1m5 0h1m3 0h8m1 0h1m1 0h1m1 0h2m2 0h3m1 0h1m2 0h1m1 0h1m1 0h2m1 0h2m4 0h3m10 0h2m1 0h2M107 262.5h1m10 0h2m1 0h2m1 0h16m231 0h1m14 0h5m1 0h3m1 0h1m1 0h4m1 0h3m1 0h4m1 0h2m2 0h1m3 0h1m1 0h7m4 0h1m2 0h1m3 0h1m1 0h4m1 0h1M113 263.5h2m6 0h6m1 0h12m243 0h1m2 0h1m2 0h2m1 0h1m2 0h8m2 0h2m2 0h2m1 0h1m3 0h1m2 0h2m1 0h1m4 0h1m1 0h2m1 0h1m1 0h1m1 0h1m1 0h2m6 0h1M105 264.5h2m7 0h3m1 0h4m1 0h3m1 0h13m236 0h1m4 0h1m6 0h1m1 0h2m2 0h3m2 0h2m1 0h2m1 0h2m1 0h4m1 0h2m1 0h1m2 0h1m1 0h1m2 0h4m1 0h1m5 0h2m1 0h4m1 0h3m2 0h1M111 265.5h1m1 0h1m1 0h4m4 0h1m1 0h7m1 0h3m1 0h3m243 0h1m3 0h4m1 0h6m1 0h1m2 0h1m1 0h3m1 0h1m2 0h3m2 0h1m1 0h6m1 0h1m1 0h2m1 0h1m1 0h1m2 0h2m3 0h1m1 0h1M103 266.5h3m3 0h1m8 0h1m1 0h1m1 0h1m1 0h16m227 0h1m14 0h1m3 0h3m1 0h2m4 0h4m1 0h3m1 0h1m1 0h1m1 0h1m3 0h1m1 0h1m1 0h2m1 0h2m2 0h1m2 0h1m1 0h1m2 0h3m1 0h3m1 0h2m1 0h2M108 267.5h1m2 0h1m1 0h1m2 0h2m3 0h20m220 0h1m17 0h1m9 0h3m1 0h1m2 0h1m4 0h1m3 0h1m5 0h4m2 0h1m2 0h5m1 0h2m2 0h1m2 0h1m1 0h2m2 0h1m1 0h2M106 268.5h1m4 0h1m4 0h3m2 0h3m1 0h2m1 0h12m230 0h1m12 0h1m3 0h3m3 0h1m1 0h1m2 0h4m1 0h2m1 0h1m2 0h5m1 0h2m2 0h1m2 0h1m2 0h6m1 0h1m4 0h1m2 0h2m1 0h1m1 0h1M105 269.5h1m1 0h1m1 0h1m3 0h2m1 0h2m1 0h7m1 0h14m233 0h1m5 0h1m6 0h1m1 0h1m1 0h1m1 0h2m1 0h1m1 0h2m1 0h3m1 0h2m1 0h7m1 0h2m2 0h4m3 0h2m1 0h5m1 0h3m3 0h2m2 0h1M107 270.5h1m1 0h1m4 0h1m1 0h1m2 0h1m1 0h6m1 0h4m1 0h7m247 0h1m2 0h1m1 0h5m1 0h4m2 0h1m1 0h6m1 0h5m5 0h1m3 0h2m1 0h1m2 0h2m1 0h1m4 0h2m2 0h2m1 0h1M106 271.5h3m5 0h4m3 0h1m1 0h17m240 0h1m2 0h1m2 0h1m3 0h2m2 0h1m2 0h1m2 0h4m2 0h1m1 0h3m1 0h7m1 0h1m1 0h1m2 0h2m1 0h2m3 0h1m2 0h1m1 0h2m1 0h2m2 0h2M102 272.5h1m7 0h1m2 0h4m2 0h2m1 0h1m1 0h16m237 0h1m2 0h1m2 0h1m1 0h1m5 0h2m2 0h1m1 0h2m2 0h9m1 0h4m2 0h6m1 0h2m1 0h2m1 0h2m3 0h1m1 0h2m6 0h3M108 273.5h1m4 0h1m1 0h1m1 0h6m2 0h2m2 0h3m1 0h7m246 0h1m3 0h1m2 0h1m1 0h12m1 0h13m1 0h2m1 0h1m3 0h2m3 0h5m1 0h1m1 0h1M112 274.5h2m1 0h2m1 0h1m3 0h18m240 0h1m10 0h1m5 0h2m1 0h2m1 0h3m1 0h3m1 0h4m1 0h1m1 0h4m1 0h5m1 0h1m1 0h2m1 0h1m1 0h3m3 0h2m2 0h2M103 275.5h1m4 0h1m4 0h2m5 0h6m1 0h13m232 0h1m11 0h1m8 0h7m1 0h13m1 0h1m2 0h4m3 0h1m3 0h4m6 0h3m2 0h5M108 276.5h1m7 0h3m2 0h2m1 0h2m1 0h14m232 0h1m15 0h2m1 0h1m1 0h4m1 0h8m1 0h4m1 0h1m1 0h1m2 0h5m1 0h5m1 0h6m1 0h1m3 0h3m2 0h2M106 277.5h1m3 0h2m2 0h1m4 0h3m2 0h17m241 0h1m8 0h1m3 0h5m1 0h11m1 0h3m1 0h3m1 0h2m1 0h5m1 0h4m1 0h5m1 0h2m1 0h1m2 0h1M104 278.5h1m3 0h1m4 0h1m1 0h2m1 0h3m1 0h6m1 0h12m237 0h1m5 0h1m4 0h4m1 0h14m1 0h2m1 0h4m1 0h1m1 0h2m1 0h6m1 0h3m2 0h5m1 0h1m1 0h2m2 0h2M110 279.5h1m1 0h1m2 0h1m1 0h1m2 0h1m1 0h2m1 0h16m229 0h1m5 0h1m2 0h1m1 0h1m3 0h2m3 0h3m1 0h1m3 0h11m2 0h6m1 0h1m1 0h4m1 0h1m1 0h3m1 0h1m2 0h6m3 0h2m1 0h1M110 280.5h1m4 0h1m2 0h1m1 0h4m1 0h15m247 0h2m1 0h2m3 0h1m2 0h1m2 0h12m1 0h1m1 0h2m2 0h1m1 0h2m1 0h1m1 0h1m1 0h3m1 0h1m2 0h5m1 0h3m1 0h2M111 281.5h1m7 0h1m1 0h1m1 0h2m1 0h14m250 0h2m1 0h9m1 0h6m2 0h7m1 0h1m1 0h5m1 0h1m1 0h2m1 0h1m1 0h1m1 0h3m2 0h2m2 0h1m1 0h1M105 282.5h3m4 0h1m1 0h2m1 0h2m2 0h3m2 0h14m245 0h1m3 0h1m2 0h1m1 0h1m2 0h2m1 0h13m1 0h2m1 0h6m1 0h8m1 0h3m1 0h1m2 0h6m1 0h2M115 283.5h1m2 0h1m1 0h20m253 0h3m1 0h1m2 0h2m2 0h9m1 0h2m1 0h1m1 0h5m1 0h2m1 0h5m2 0h3m3 0h7M109 284.5h1m4 0h3m2 0h1m1 0h2m2 0h9m1 0h5m240 0h1m2 0h1m9 0h2m1 0h1m1 0h1m4 0h2m1 0h22m1 0h5m1 0h1m2 0h1m3 0h6M110 285.5h1m2 0h1m4 0h7m1 0h14m247 0h1m2 0h1m1 0h1m3 0h1m1 0h1m1 0h1m1 0h13m1 0h5m1 0h6m1 0h8m1 0h3m3 0h4M117 286.5h1m1 0h3m2 0h1m1 0h14m245 0h1m3 0h1m7 0h2m3 0h20m1 0h4m1 0h11m1 0h6m1 0h2M107 287.5h1m4 0h2m4 0h11m1 0h1m1 0h8m230 0h1m17 0h1m7 0h3m2 0h21m1 0h16m1 0h4m1 0h2M113 288.5h1m1 0h2m1 0h1m1 0h20m247 0h1m3 0h1m3 0h3m3 0h8m1 0h7m2 0h19m1 0h8m1 0h1M109 289.5h1m5 0h1m1 0h1m1 0h1m1 0h9m1 0h10m245 0h1m2 0h1m1 0h2m1 0h1m1 0h2m1 0h1m1 0h9m1 0h19m1 0h7m1 0h9M107 290.5h1m4 0h5m1 0h1m3 0h19m235 0h1m2 0h2m7 0h1m5 0h2m1 0h1m1 0h17m1 0h11m1 0h11m1 0h1m1 0h5M113 291.5h1m1 0h3m3 0h4m1 0h14m246 0h1m3 0h1m4 0h9m1 0h7m1 0h12m1 0h1m1 0h19M112 292.5h1m1 0h1m1 0h2m1 0h1m2 0h18m239 0h1m12 0h3m4 0h14m1 0h20m2 0h2m1 0h1m1 0h6M111 293.5h1m3 0h10m1 0h15m248 0h1m1 0h2m3 0h3m1 0h13m1 0h21m1 0h3m1 0h5m1 0h2M110 294.5h1m1 0h1m1 0h1m6 0h7m1 0h11m239 0h1m5 0h1m3 0h1m5 0h1m1 0h1m1 0h25m1 0h3m1 0h17m1 0h1M109 295.5h1m2 0h3m3 0h2m1 0h19m229 0h1m13 0h3m7 0h2m1 0h3m2 0h47M111 296.5h1m5 0h1m1 0h21m238 0h1m8 0h1m2 0h5m3 0h1m1 0h45m1 0h2M116 297.5h3m1 0h9m1 0h10m247 0h2m2 0h1m1 0h1m1 0h3m2 0h49M112 298.5h1m2 0h4m1 0h1m2 0h17m258 0h1m2 0h1m1 0h1m1 0h3m1 0h31m1 0h8M110 299.5h2m2 0h4m1 0h1m1 0h4m1 0h14m234 0h1m2 0h1m10 0h1m4 0h2m3 0h2m1 0h8m1 0h14m1 0h23M115 300.5h1m1 0h2m1 0h1m1 0h4m1 0h13m247 0h1m1 0h2m3 0h1m1 0h2m1 0h2m1 0h5m1 0h40M111 301.5h1m2 0h1m4 0h7m1 0h13m234 0h1m2 0h1m12 0h1m4 0h2m1 0h1m1 0h17m1 0h30M112 302.5h2m1 0h7m1 0h17m254 0h1m2 0h3m2 0h46M113 303.5h1m4 0h3m1 0h2m1 0h16m239 0h1m12 0h1m2 0h1m7 0h1m1 0h2m2 0h5m2 0h1m3 0h4m1 0h3m1 0h1m1 0h2m1 0h2m1 0h3m1 0h3m3 0h1M113 304.5h1m2 0h1m3 0h13m1 0h6M113 305.5h3m2 0h1m1 0h20M116 306.5h2m1 0h1m1 0h1m1 0h2m1 0h14M115 307.5h1m1 0h2m1 0h6m1 0h13M116 308.5h2m2 0h3m1 0h16M117 309.5h23M117 310.5h4m1 0h18M117 311.5h1m1 0h6m1 0h15M117 312.5h2m1 0h1m1 0h18M116 313.5h1m1 0h1m1 0h1m1 0h18M118 314.5h22M117 315.5h2m1 0h7m1 0h12M118 316.5h22M119 317.5h21M118 318.5h22M120 319.5h2m1 0h6m1 0h10M119 320.5h1m1 0h20M119 321.5h22M120 322.5h1m1 0h19M121 323.5h19M121 324.5h7m1 0h11M121 325.5h1m1 0h2m1 0h5m1 0h8M121 326.5h4m1 0h14M122 327.5h19M123 328.5h17M124 329.5h17M124 330.5h16M124 331.5h16M125 332.5h1m1 0h13M125 333.5h16M126 334.5h15M126 335.5h14M127 336.5h13M128 337.5h12M129 338.5h11M129 339.5h11M129 340.5h11M129 341.5h11M131 342.5h9M131 343.5h9M131 344.5h9M132 345.5h9M133 346.5h8M134 347.5h6M134 348.5h6M135 349.5h5M135 350.5h5M136 351.5h4M137 352.5h4M138 353.5h2M138 354.5h2" stroke="#c8412a" stroke-width="1" fill="none"/><path d="M246 47.5h1M222 48.5h1M212 49.5h1M228 54.5h1M261 55.5h1M216 57.5h1M220 58.5h1M209 60.5h1m20 0h1m9 0h1M255 63.5h1M216 65.5h1m22 0h1M227 69.5h1M209 72.5h1m7 0h1M212 73.5h1m14 0h1M226 74.5h1M224 75.5h1M214 77.5h1m23 0h1m8 0h1M233 78.5h1M201 79.5h1m60 0h1M213 81.5h1M235 82.5h1M203 83.5h1m20 0h1M195 84.5h1m14 0h1m28 0h1m17 0h1M222 85.5h1M222 86.5h1M264 87.5h1M203 88.5h1M216 91.5h1M240 92.5h1M195 93.5h1M222 95.5h1m14 0h1M231 96.5h1M214 97.5h1M202 98.5h1m55 0h1M226 99.5h1M207 100.5h1m380 0h1M204 101.5h1m7 0h1m18 0h1M212 103.5h1M203 104.5h1m29 0h1M202 105.5h1m9 0h1M229 106.5h1m17 0h1M200 107.5h1m39 0h1M200 108.5h1m2 0h1m8 0h1m12 0h1m23 0h1M205 109.5h1m33 0h1M195 110.5h1m37 0h1M207 111.5h1m3 0h1M213 114.5h1M209 115.5h1M204 116.5h1M203 118.5h1m14 0h1m5 0h1M200 119.5h1m21 0h1m9 0h1M191 120.5h1m8 0h2m10 0h1m31 0h1M196 121.5h1m3 0h1m36 0h1M202 122.5h1M200 123.5h1m31 0h1M191 124.5h1m35 0h1m11 0h1M198 125.5h1m9 0h1m25 0h1M204 126.5h1m22 0h1M215 127.5h1m13 0h1M209 128.5h1m3 0h1m35 0h1M205 129.5h1m3 0h1m10 0h1m3 0h1M197 130.5h1m7 0h2m12 0h1M200 131.5h1m27 0h1M189 132.5h1m28 0h1m8 0h1M219 133.5h1m9 0h1M194 134.5h2m9 0h2m6 0h1M193 135.5h1m1 0h1m11 0h1m9 0h1m2 0h1M190 136.5h2m2 0h1m5 0h1m3 0h1m7 0h1m15 0h1M199 137.5h2m7 0h1m3 0h1m2 0h1m1 0h1m15 0h1m6 0h1M198 138.5h1m9 0h1m1 0h1M207 139.5h1M197 140.5h2m6 0h1m1 0h1m1 0h1m5 0h1m8 0h1m6 0h1m346 0h1M190 141.5h1m11 0h1m5 0h1m1 0h1m17 0h1M195 142.5h1m2 0h1m1 0h1m12 0h1m4 0h2m10 0h1m5 0h1m310 0h1M193 143.5h1m9 0h1m2 0h1m6 0h1m10 0h1m4 0h1m6 0h1M186 144.5h1m1 0h1m6 0h1m1 0h1m335 0h1M191 145.5h2m2 0h1m12 0h1m5 0h1m5 0h1M196 146.5h1m3 0h2m11 0h1m11 0h1m13 0h1M195 147.5h1m4 0h1m5 0h3m2 0h1m2 0h1m32 0h1M198 148.5h1m11 0h1m2 0h1m4 0h1m29 0h1M200 149.5h1m2 0h1m8 0h1m10 0h1M188 150.5h1m2 0h1m2 0h1m3 0h3m2 0h1m2 0h1M207 151.5h1m1 0h1m4 0h1m2 0h1m8 0h1m9 0h1m319 0h1M190 152.5h1m1 0h1m1 0h1m4 0h3m4 0h1m12 0h1m1 0h1m13 0h1m2 0h1M196 153.5h1m23 0h1m1 0h1m344 0h1M191 154.5h1m4 0h2m5 0h1m1 0h1m6 0h1m4 0h1m9 0h1m307 0h1M186 155.5h1m4 0h1m3 0h4m6 0h1m13 0h1m5 0h1m2 0h1m11 0h1M188 156.5h2m1 0h1m10 0h1m1 0h1m18 0h1M195 157.5h1m4 0h1M191 158.5h1m2 0h2m1 0h1m3 0h1m3 0h1m4 0h3m1 0h1m314 0h1M187 159.5h2m1 0h1m4 0h2m2 0h1m1 0h3M186 160.5h1m3 0h1m2 0h2m14 0h1m27 0h1M189 161.5h1m3 0h1m3 0h1m3 0h1m4 0h1m1 0h1m11 0h1M200 162.5h1m2 0h1m2 0h1m2 0h2m2 0h1M182 163.5h1m6 0h2m1 0h1m1 0h1m4 0h2m1 0h1m5 0h2m2 0h1m16 0h1m11 0h1m322 0h1M187 164.5h1m3 0h2m4 0h1m11 0h1m3 0h1m12 0h1M190 165.5h1m1 0h1m5 0h1m7 0h1m15 0h1m15 0h1m336 0h1M185 166.5h1m6 0h1m3 0h1m2 0h1m1 0h3m14 0h1M187 167.5h1m3 0h1m5 0h1m2 0h1m7 0h1m6 0h1m9 0h1m4 0h1M189 168.5h1m1 0h2m1 0h1m5 0h1m2 0h1m1 0h1m1 0h1m6 0h1m11 0h1m16 0h1m355 0h1M187 169.5h1m3 0h2m1 0h1m1 0h1m10 0h1m3 0h1m8 0h1m25 0h1M188 170.5h1m2 0h2m6 0h1m4 0h1m32 0h1M182 171.5h1m3 0h1m1 0h1m2 0h3m3 0h1m3 0h1m8 0h1m1 0h1m21 0h1m7 0h1M182 172.5h1m4 0h1m6 0h2m3 0h1m3 0h1m4 0h1m3 0h1m2 0h1m6 0h1m345 0h1M187 173.5h4m1 0h4m3 0h2m2 0h1m16 0h1m1 0h1m8 0h1m7 0h1m2 0h1m299 0h1M183 174.5h1m3 0h1m3 0h3m1 0h1m7 0h1m2 0h1m1 0h1m1 0h1m6 0h1m344 0h1M183 175.5h1m8 0h1m3 0h1m1 0h1m1 0h1m5 0h1m10 0h2m1 0h1m1 0h2m9 0h1m287 0h1M182 176.5h1m4 0h1m1 0h1m1 0h3m3 0h1m5 0h1m8 0h1m11 0h1m1 0h3m14 0h1M184 177.5h2m2 0h2m1 0h6m3 0h1m3 0h1m8 0h2m1 0h1m6 0h1m5 0h1M180 178.5h1m2 0h3m2 0h3m1 0h1m3 0h1m2 0h1m1 0h1m4 0h1m8 0h1m18 0h1M183 179.5h1m2 0h1m9 0h1m1 0h1m3 0h2m1 0h1m4 0h1m3 0h1m3 0h1m330 0h1m2 0h2M184 180.5h1m4 0h1m4 0h1m1 0h3m1 0h2m1 0h2m2 0h3m3 0h3m1 0h2m2 0h1m4 0h1M184 181.5h2m1 0h1m1 0h2m1 0h2m1 0h1m2 0h1m2 0h1m4 0h1m1 0h1m7 0h1m5 0h1m7 0h1m329 0h1M182 182.5h1m2 0h1m4 0h1m9 0h2m2 0h2m1 0h1m4 0h1m6 0h2m17 0h1M182 183.5h1m2 0h6m3 0h4m1 0h1m1 0h2m7 0h1m6 0h1m1 0h1m3 0h1m354 0h1M181 184.5h1m1 0h2m3 0h10m1 0h1m3 0h1m1 0h1m1 0h1m3 0h1m1 0h1m2 0h1m4 0h1m344 0h1M183 185.5h2m3 0h2m1 0h2m3 0h2m2 0h1m2 0h1m1 0h1m2 0h2m8 0h2m2 0h1m291 0h1M182 186.5h1m4 0h1m3 0h1m1 0h2m12 0h1m3 0h1m5 0h1m6 0h1m312 0h1m16 0h1m1 0h1m4 0h1M183 187.5h1m3 0h1m2 0h2m1 0h3m1 0h1m6 0h1m10 0h1m1 0h1m3 0h1m14 0h1m328 0h1M184 188.5h4m1 0h2m1 0h2m2 0h4m2 0h1m1 0h2m2 0h2m7 0h1m1 0h1m13 0h1M182 189.5h1m1 0h1m1 0h1m1 0h3m1 0h3m1 0h2m1 0h2m1 0h2m1 0h1m4 0h1m1 0h1m8 0h1m329 0h1M181 190.5h1m3 0h1m1 0h3m2 0h4m2 0h3m3 0h2m1 0h1m4 0h1m335 0h1M184 191.5h2m1 0h1m2 0h2m1 0h4m2 0h1m1 0h1m2 0h2m1 0h1m1 0h2m2 0h3m24 0h1m326 0h1M182 192.5h3m1 0h3m1 0h2m1 0h1m1 0h1m7 0h2m3 0h1m2 0h2m15 0h1m324 0h1M181 193.5h1m1 0h2m1 0h5m1 0h1m3 0h3m6 0h1m6 0h1m2 0h1m11 0h1m341 0h1M181 194.5h1m3 0h5m2 0h2m1 0h1m1 0h1m2 0h2m1 0h1m1 0h1m7 0h1M182 195.5h11m1 0h2m3 0h1m3 0h1m2 0h1m4 0h1m350 0h1M180 196.5h3m2 0h1m1 0h3m1 0h4m10 0h1m6 0h1m4 0h1M181 197.5h1m2 0h3m2 0h8m1 0h1m3 0h1m1 0h1m1 0h1m14 0h1m1 0h1m1 0h1m278 0h1m31 0h1m13 0h1M182 198.5h3m2 0h6m1 0h8m1 0h1m2 0h2m3 0h1m10 0h1m3 0h1m2 0h1m307 0h1M180 199.5h3m2 0h2m1 0h2m1 0h4m4 0h1m3 0h1m1 0h1m1 0h1m7 0h1m3 0h1m15 0h1m2 0h1M181 200.5h12m1 0h1m2 0h1m4 0h1m2 0h1m1 0h1m6 0h1m3 0h1m329 0h1m5 0h1M184 201.5h3m1 0h6m1 0h2m1 0h1m3 0h1m3 0h1m1 0h1m1 0h1m3 0h2m8 0h2M181 202.5h3m1 0h1m2 0h4m1 0h2m1 0h3m1 0h3m2 0h1m2 0h2m10 0h1m5 0h1m314 0h1m17 0h1m17 0h1M181 203.5h8m1 0h2m1 0h1m1 0h4m4 0h1m7 0h1m3 0h1m3 0h1m1 0h2m6 0h1m304 0h1m14 0h1m30 0h1M180 204.5h1m1 0h3m1 0h5m5 0h1m1 0h1m1 0h3m3 0h1m1 0h1m3 0h1m1 0h1m9 0h2m337 0h1M181 205.5h4m1 0h10m2 0h3m1 0h1m11 0h1m13 0h1m310 0h1m2 0h1m2 0h1m5 0h2m4 0h1M181 206.5h7m1 0h4m1 0h4m4 0h5m13 0h1m308 0h2m4 0h1M181 207.5h11m1 0h3m1 0h2m1 0h1m1 0h1m1 0h1m15 0h1m4 0h1m339 0h1M182 208.5h7m1 0h4m1 0h1m3 0h2m2 0h1m6 0h1m6 0h1m9 0h1m280 0h1m28 0h1m4 0h1m4 0h1m9 0h1M181 209.5h5m1 0h7m1 0h2m2 0h4m7 0h1m9 0h1m1 0h1m332 0h1m1 0h1m1 0h2M181 210.5h8m1 0h3m1 0h1m1 0h2m1 0h1m6 0h1m6 0h2m303 0h1m28 0h1M182 211.5h1m1 0h10m1 0h2m2 0h5m4 0h1m2 0h1m3 0h1m11 0h1m7 0h1M182 212.5h1m1 0h5m1 0h1m1 0h3m3 0h2m2 0h2m9 0h1m5 0h1m6 0h1m7 0h1m314 0h1m1 0h1m2 0h1M181 213.5h13m2 0h2m1 0h1m2 0h1m5 0h1m1 0h1m2 0h1m10 0h1m276 0h1m3 0h1m25 0h1m24 0h1M181 214.5h17m3 0h4m1 0h1m2 0h1m6 0h1m9 0h2m313 0h2m9 0h2m14 0h2M181 215.5h1m1 0h6m2 0h7m1 0h4m2 0h1m1 0h1m3 0h1m3 0h1m339 0h1M182 216.5h1m1 0h10m1 0h2m1 0h1m1 0h1m4 0h1m5 0h1m10 0h1m4 0h1m303 0h1m23 0h2M181 217.5h3m1 0h11m1 0h2m1 0h2m3 0h2m4 0h2m2 0h1m12 0h1m2 0h1m264 0h1m21 0h1m24 0h1m3 0h1M180 218.5h8m1 0h6m1 0h3m5 0h2m1 0h2m1 0h1m2 0h1m1 0h1m14 0h1m2 0h1M181 219.5h9m1 0h2m2 0h2m3 0h2m1 0h1m1 0h1m5 0h1m6 0h1m2 0h1m4 0h2m280 0h1m11 0h1m1 0h1m12 0h1m11 0h1m3 0h1M180 220.5h9m1 0h8m3 0h1m1 0h1m1 0h2m4 0h2m1 0h2m7 0h2m289 0h1m26 0h1m16 0h1m6 0h1M181 221.5h6m1 0h6m1 0h2m1 0h1m3 0h1m1 0h1m1 0h1m2 0h1m1 0h1m5 0h1m5 0h1m3 0h1m278 0h1m24 0h1m1 0h1m13 0h1m8 0h1m1 0h1M181 222.5h11m1 0h3m1 0h1m2 0h2m2 0h1m1 0h2m4 0h1m5 0h1m11 0h1m321 0h1m25 0h1M181 223.5h6m1 0h4m5 0h1m2 0h1m2 0h1m6 0h1m6 0h1m3 0h1m2 0h1m4 0h1m273 0h1m6 0h1m10 0h1m26 0h1m15 0h1M181 224.5h14m1 0h3m1 0h2m1 0h4m9 0h2m12 0h1m259 0h1m35 0h1m1 0h1m1 0h1m7 0h1m2 0h1m1 0h1m10 0h1m10 0h1M181 225.5h15m1 0h4m5 0h1m1 0h1m4 0h2m1 0h1m1 0h1m3 0h1m292 0h1m15 0h1m15 0h1m5 0h1m6 0h1M181 226.5h13m1 0h1m1 0h2m5 0h2m6 0h1m292 0h1m19 0h1m11 0h1m24 0h1m8 0h1M180 227.5h11m1 0h8m1 0h1m5 0h1m1 0h1m8 0h2m13 0h1m264 0h1m42 0h1m3 0h1m3 0h2M181 228.5h5m1 0h1m1 0h1m1 0h2m1 0h2m1 0h2m1 0h1m4 0h2m3 0h1m5 0h1m2 0h1m1 0h1m8 0h1m282 0h1m3 0h1m12 0h1m5 0h1m11 0h1m2 0h1m4 0h1m10 0h1M181 229.5h8m1 0h4m1 0h2m1 0h2m1 0h1m6 0h1m1 0h1m4 0h1m1 0h1m285 0h1m16 0h1m9 0h1m5 0h1m9 0h1m4 0h1M180 230.5h15m2 0h4m3 0h1m2 0h1m4 0h1m2 0h1m3 0h1m270 0h1m42 0h3m6 0h1m1 0h1m6 0h1m2 0h1m4 0h1m17 0h1M181 231.5h3m1 0h6m1 0h8m1 0h1m3 0h1m3 0h1m3 0h1m1 0h1m12 0h1m2 0h1m274 0h2m26 0h1m4 0h1m8 0h1m4 0h1m16 0h1M181 232.5h20m1 0h2m4 0h1m1 0h1m2 0h1m7 0h1m7 0h1m272 0h1m9 0h1m21 0h1m2 0h1m4 0h1m7 0h1M180 233.5h2m1 0h9m1 0h1m1 0h6m1 0h1m2 0h2m14 0h2m3 0h1m286 0h1m4 0h2m6 0h1m1 0h2m4 0h1m7 0h2m8 0h2m1 0h1M181 234.5h7m1 0h8m1 0h1m3 0h1m1 0h1m3 0h1m4 0h1m12 0h1m282 0h1m6 0h1m5 0h1m6 0h1m9 0h1m6 0h1m10 0h2M181 235.5h7m3 0h9m1 0h1m1 0h5m21 0h1m279 0h2m15 0h1m5 0h1m3 0h1m5 0h1m4 0h2m3 0h2m9 0h1M181 236.5h10m3 0h3m1 0h1m1 0h5m3 0h2m7 0h1m3 0h2m1 0h1m267 0h1m23 0h1m6 0h1m9 0h1m2 0h1m11 0h1m1 0h2m1 0h2m2 0h1m9 0h1m7 0h1M181 237.5h11m1 0h3m2 0h4m7 0h1m4 0h1m2 0h1m9 0h1m268 0h1m5 0h1m23 0h1m1 0h1m5 0h1m1 0h1m1 0h1m1 0h1m2 0h1m5 0h2M180 238.5h9m1 0h4m1 0h3m1 0h4m1 0h1m3 0h3m1 0h1m1 0h1m15 0h1m280 0h1m10 0h2m11 0h1m2 0h3m11 0h1m1 0h1M181 239.5h7m1 0h1m1 0h3m1 0h8m3 0h1m1 0h1m4 0h1m8 0h1m289 0h1m1 0h1m5 0h1m1 0h1m10 0h2m1 0h2m14 0h1m8 0h1M181 240.5h9m1 0h3m1 0h2m2 0h5m2 0h1m1 0h3m1 0h1m3 0h1m1 0h1m8 0h2m262 0h1m25 0h1m3 0h1m12 0h1m2 0h1m1 0h1m2 0h2m1 0h1m2 0h1M181 241.5h12m1 0h6m2 0h1m3 0h1m4 0h1m1 0h1m3 0h2m6 0h1m2 0h1m260 0h1m2 0h1m11 0h1m11 0h1m1 0h1m1 0h1m2 0h1m2 0h4m2 0h1m3 0h1m12 0h1m4 0h1M181 242.5h14m2 0h1m1 0h3m1 0h2m2 0h1m2 0h1m7 0h1m281 0h1m4 0h1m5 0h1m20 0h1m1 0h1m2 0h1m2 0h1m1 0h1m3 0h1m5 0h1M181 243.5h10m1 0h4m1 0h2m1 0h1m1 0h1m1 0h2m6 0h1m1 0h2m7 0h1m267 0h1m13 0h1m3 0h1m15 0h1m2 0h3m6 0h1m5 0h1m2 0h1m19 0h1M181 244.5h10m1 0h4m2 0h2m1 0h1m1 0h1m4 0h1m6 0h1m1 0h1m4 0h1m271 0h1m3 0h1m4 0h1m1 0h1m4 0h1m8 0h1m2 0h1m7 0h1m9 0h1m1 0h3m6 0h1M181 245.5h15m2 0h1m1 0h1m1 0h4m1 0h1m1 0h1m3 0h2m3 0h1m1 0h1m284 0h1m20 0h1m3 0h1m2 0h1m6 0h2m6 0h2m5 0h2m2 0h1m3 0h1M181 246.5h18m1 0h2m2 0h1m2 0h1m5 0h1m4 0h1m1 0h1m269 0h1m16 0h1m12 0h1m6 0h1m10 0h1m1 0h1m2 0h1m1 0h1m2 0h2m3 0h1m2 0h1M181 247.5h8m1 0h10m1 0h2m2 0h2m1 0h1m3 0h1m1 0h1m7 0h1m1 0h1m266 0h1m10 0h1m4 0h1m8 0h1m2 0h1m5 0h2m4 0h2m1 0h1m2 0h2m5 0h1m3 0h1m1 0h1m1 0h1m8 0h1M180 248.5h10m1 0h5m1 0h3m2 0h2m1 0h2m7 0h1m2 0h1m3 0h2m4 0h1m264 0h1m1 0h1m23 0h1m4 0h1m1 0h1m4 0h1m1 0h2m1 0h1m4 0h1m1 0h1m1 0h1m1 0h2m21 0h1m5 0h1M181 249.5h12m1 0h13m1 0h1m1 0h1m3 0h1m5 0h1m278 0h1m5 0h1m18 0h1m3 0h4m3 0h1m2 0h1m5 0h1m1 0h2m2 0h1M181 250.5h16m1 0h3m1 0h3m1 0h1m4 0h1m2 0h1m5 0h1m3 0h1m274 0h1m12 0h2m7 0h1m3 0h1m6 0h1m2 0h1m2 0h1m2 0h1m4 0h1m4 0h1m10 0h1m9 0h1M180 251.5h1m1 0h10m1 0h7m2 0h1m1 0h1m4 0h1m6 0h2m5 0h1m268 0h1m8 0h1m1 0h1m6 0h1m1 0h1m9 0h1m2 0h1m1 0h1m5 0h3m1 0h1m1 0h1m2 0h3m1 0h2m17 0h1m4 0h1m7 0h1M180 252.5h17m1 0h1m1 0h6m4 0h1m4 0h1m275 0h1m4 0h1m2 0h1m9 0h1m5 0h1m1 0h3m2 0h1m1 0h1m2 0h2m3 0h2m1 0h1m1 0h1m6 0h4m4 0h1M181 253.5h14m1 0h1m1 0h4m2 0h1m1 0h4m2 0h1m11 0h1m281 0h1m4 0h1m4 0h1m2 0h1m3 0h2m1 0h1m6 0h2m1 0h1m5 0h3m3 0h1M181 254.5h5m1 0h8m1 0h1m1 0h2m2 0h2m2 0h1m1 0h1m3 0h1m279 0h1m3 0h1m21 0h1m6 0h2m2 0h1m2 0h1m6 0h1m1 0h2m1 0h1m1 0h1m2 0h1M181 255.5h16m1 0h5m2 0h1m2 0h1m11 0h1m274 0h2m15 0h1m1 0h2m1 0h2m6 0h1m4 0h1m3 0h2m1 0h1m1 0h2m1 0h2m1 0h2m6 0h1m1 0h1M181 256.5h12m1 0h3m2 0h1m6 0h1m8 0h1m286 0h1m10 0h1m8 0h1m1 0h1m6 0h2m2 0h1m3 0h1m3 0h1m1 0h1m2 0h2m1 0h1m9 0h1M180 257.5h6m1 0h5m2 0h5m1 0h3m1 0h1m6 0h1m1 0h1m1 0h2m4 0h1m267 0h1m2 0h2m15 0h1m6 0h1m3 0h1m5 0h1m11 0h2m1 0h2m6 0h1m6 0h1m3 0h1m12 0h1M180 258.5h23m3 0h2m2 0h1m281 0h1m4 0h2m12 0h1m2 0h1m4 0h1m15 0h6m2 0h1m3 0h1M181 259.5h14m1 0h3m2 0h2m2 0h1m2 0h1m5 0h1m8 0h1m272 0h1m7 0h2m1 0h1m2 0h2m1 0h1m10 0h1m1 0h2m1 0h1m1 0h3m1 0h4m1 0h1m5 0h3m5 0h2m4 0h1m8 0h1m1 0h1M180 260.5h20m3 0h1m1 0h2m8 0h1m4 0h1m269 0h1m1 0h1m7 0h1m5 0h3m3 0h1m4 0h1m3 0h2m6 0h1m2 0h1m4 0h1m1 0h1m3 0h1m1 0h1m2 0h1m1 0h1m1 0h1M181 261.5h11m1 0h6m2 0h2m3 0h2m1 0h2m10 0h1m270 0h1m5 0h1m2 0h2m1 0h1m2 0h1m2 0h1m7 0h3m2 0h6m2 0h1m2 0h2m2 0h4m1 0h1m6 0h1M181 262.5h12m1 0h2m1 0h2m1 0h6m4 0h1m6 0h1m273 0h1m2 0h1m1 0h1m6 0h2m1 0h2m3 0h1m2 0h1m1 0h2m2 0h2m1 0h4m1 0h1m3 0h1m1 0h2m1 0h2m1 0h1m4 0h1m1 0h2m4 0h1m3 0h1M180 263.5h19m2 0h1m4 0h1m3 0h1m8 0h1m271 0h1m5 0h1m3 0h2m1 0h1m1 0h1m1 0h2m7 0h2m1 0h2m1 0h1m11 0h7m3 0h5M181 264.5h17m2 0h8m1 0h1m3 0h2m3 0h1m270 0h1m1 0h1m10 0h1m5 0h2m3 0h3m1 0h1m4 0h3m1 0h2m2 0h2m1 0h1m1 0h1m2 0h2m1 0h5m7 0h1M181 265.5h20m2 0h1m1 0h1m4 0h1m2 0h2m274 0h1m4 0h1m2 0h1m4 0h4m5 0h1m1 0h1m2 0h1m3 0h1m5 0h1m1 0h2m1 0h2m1 0h2m2 0h1m1 0h2m1 0h1m2 0h1m2 0h1m4 0h1m15 0h1M181 266.5h18m1 0h2m1 0h5m4 0h4m3 0h1m1 0h1m267 0h1m2 0h1m6 0h1m5 0h2m1 0h1m1 0h3m2 0h1m2 0h1m4 0h2m2 0h2m1 0h2m4 0h1m2 0h3m4 0h3m7 0h1M181 267.5h14m1 0h1m1 0h3m4 0h3m3 0h3m275 0h1m5 0h1m1 0h3m7 0h2m2 0h1m2 0h3m1 0h1m1 0h1m2 0h1m1 0h1m1 0h1m1 0h1m1 0h3m2 0h1m1 0h3m1 0h4m1 0h1m1 0h1M181 268.5h14m2 0h4m1 0h2m9 0h2m1 0h1m1 0h1m273 0h2m4 0h1m2 0h1m1 0h1m1 0h5m1 0h1m1 0h3m1 0h1m5 0h1m1 0h3m1 0h3m2 0h1m1 0h1m1 0h2m1 0h1m3 0h3m3 0h1m3 0h1M181 269.5h16m1 0h3m2 0h3m2 0h1m3 0h2m1 0h2m279 0h4m1 0h2m4 0h3m3 0h2m1 0h1m1 0h1m1 0h2m2 0h1m3 0h1m1 0h1m1 0h1m1 0h1m1 0h4m1 0h3m2 0h1m1 0h1m12 0h1m3 0h1M181 270.5h20m3 0h1m1 0h6m280 0h1m3 0h2m5 0h1m6 0h2m3 0h1m1 0h5m4 0h5m1 0h8m1 0h1m1 0h2m1 0h2m6 0h2M181 271.5h13m1 0h1m1 0h3m1 0h2m1 0h3m1 0h1m1 0h1m1 0h1m1 0h1m281 0h1m3 0h2m2 0h2m1 0h1m3 0h1m1 0h1m1 0h6m1 0h2m2 0h1m4 0h1m1 0h2m1 0h2m2 0h4m2 0h3m3 0h1m1 0h1m6 0h1M181 272.5h14m2 0h6m2 0h4m1 0h1m2 0h1m2 0h1m278 0h1m4 0h2m4 0h2m1 0h1m3 0h1m3 0h13m1 0h4m3 0h1m7 0h1m5 0h1m1 0h1M180 273.5h9m1 0h6m1 0h1m1 0h3m1 0h1m1 0h4m4 0h1m1 0h1m1 0h1m271 0h2m3 0h3m4 0h2m8 0h1m1 0h3m2 0h1m1 0h3m2 0h3m1 0h2m1 0h6m3 0h1m1 0h1m1 0h2m8 0h1m1 0h1m2 0h1M180 274.5h18m1 0h1m1 0h1m4 0h2m4 0h1m1 0h2m2 0h1m271 0h1m3 0h1m2 0h2m1 0h3m1 0h1m4 0h1m1 0h1m3 0h1m1 0h2m1 0h2m1 0h3m1 0h1m1 0h1m1 0h2m1 0h1m1 0h4m1 0h2m1 0h1m3 0h2m5 0h1M180 275.5h17m3 0h2m1 0h3m1 0h1m1 0h2m3 0h1m3 0h1m272 0h1m1 0h1m2 0h2m5 0h7m2 0h4m1 0h4m1 0h3m1 0h3m1 0h3m1 0h3m1 0h3m2 0h1m10 0h1M181 276.5h13m1 0h7m2 0h2m2 0h2m2 0h1m2 0h1m275 0h2m5 0h1m2 0h2m2 0h1m1 0h1m1 0h4m1 0h1m1 0h3m1 0h4m1 0h2m1 0h8m1 0h2m2 0h4m2 0h1m10 0h1M180 277.5h10m1 0h11m2 0h2m2 0h2m6 0h1m1 0h1m270 0h1m2 0h1m2 0h4m2 0h1m1 0h3m1 0h3m1 0h3m1 0h6m1 0h4m1 0h1m1 0h11m2 0h1m1 0h1m3 0h1m1 0h1m2 0h1M181 278.5h25m1 0h5m2 0h1m1 0h1m274 0h2m3 0h1m2 0h1m1 0h6m1 0h3m1 0h4m1 0h3m1 0h3m1 0h3m2 0h7m2 0h3m3 0h2m1 0h3M180 279.5h17m1 0h6m4 0h1m1 0h1m1 0h1m1 0h1m274 0h1m2 0h1m1 0h2m2 0h1m1 0h2m4 0h2m2 0h3m1 0h1m1 0h1m1 0h9m2 0h11m1 0h2m1 0h1m1 0h1m1 0h2m5 0h1m3 0h1m13 0h1M181 280.5h12m1 0h2m3 0h3m1 0h1m3 0h1m6 0h1m277 0h4m1 0h1m1 0h1m3 0h3m1 0h1m1 0h2m1 0h2m1 0h2m3 0h2m1 0h17m2 0h1m1 0h3m9 0h2M180 281.5h15m2 0h2m1 0h1m1 0h3m1 0h3m1 0h1m284 0h3m1 0h1m1 0h1m4 0h8m1 0h3m1 0h2m1 0h6m1 0h2m1 0h7m1 0h4m1 0h3m14 0h1M181 282.5h20m1 0h1m1 0h2m3 0h1m6 0h1m273 0h4m3 0h1m4 0h1m1 0h1m2 0h9m1 0h1m1 0h3m1 0h2m1 0h3m1 0h3m1 0h3m2 0h1m1 0h1m7 0h1m2 0h1m5 0h1M181 283.5h16m2 0h5m3 0h3m2 0h1m1 0h1m274 0h1m1 0h3m1 0h4m2 0h3m1 0h4m2 0h1m1 0h2m1 0h6m1 0h6m1 0h2m1 0h2m1 0h5m2 0h1m1 0h1M181 284.5h11m1 0h1m1 0h1m1 0h1m2 0h2m4 0h1m1 0h1m1 0h2m1 0h1m275 0h7m2 0h18m1 0h1m1 0h18m3 0h3m20 0h1M181 285.5h10m1 0h7m1 0h3m1 0h2m1 0h2m5 0h1m274 0h2m1 0h1m2 0h2m3 0h3m2 0h2m1 0h6m1 0h6m2 0h11m1 0h5m1 0h1m2 0h2m5 0h2m1 0h1m3 0h1M181 286.5h17m1 0h6m2 0h3m279 0h2m1 0h1m1 0h6m1 0h3m1 0h1m2 0h6m2 0h1m1 0h8m1 0h8m1 0h1m3 0h1m1 0h1m6 0h1M181 287.5h19m1 0h1m1 0h6m1 0h1m1 0h1m1 0h1m277 0h4m2 0h1m1 0h4m1 0h10m5 0h19m1 0h2m1 0h2m3 0h3m6 0h1M181 288.5h16m1 0h1m2 0h4m1 0h8m275 0h1m3 0h2m1 0h3m2 0h1m1 0h1m2 0h9m1 0h2m1 0h1m2 0h15m1 0h3m3 0h1m2 0h1m2 0h1m13 0h1M180 289.5h17m2 0h1m1 0h3m1 0h3m2 0h1m2 0h1m276 0h3m1 0h6m1 0h3m1 0h32m1 0h2m1 0h1m2 0h2m3 0h1M181 290.5h21m1 0h1m1 0h1m1 0h1m4 0h1m277 0h3m2 0h1m1 0h5m1 0h4m1 0h19m1 0h11m1 0h1m1 0h2m1 0h2M181 291.5h16m1 0h3m1 0h1m1 0h5m2 0h1m1 0h1m275 0h4m1 0h1m1 0h1m1 0h5m3 0h4m2 0h6m1 0h16m1 0h2m3 0h1m1 0h1m2 0h1m1 0h1m5 0h1M180 292.5h16m1 0h5m2 0h3m2 0h2m1 0h1m277 0h1m1 0h1m1 0h2m1 0h6m1 0h5m1 0h3m1 0h2m1 0h21m3 0h2m4 0h1m3 0h2m15 0h1M180 293.5h20m4 0h1m3 0h1m1 0h2m277 0h3m1 0h5m1 0h2m1 0h6m1 0h5m1 0h5m1 0h16m1 0h1m1 0h4m1 0h1m3 0h2M180 294.5h11m1 0h5m3 0h3m1 0h1m3 0h3m278 0h1m2 0h4m1 0h13m1 0h4m1 0h22m2 0h2m1 0h2m11 0h1M181 295.5h10m1 0h8m1 0h1m1 0h1m1 0h1m1 0h2m1 0h1m1 0h1m278 0h2m1 0h1m1 0h7m1 0h19m1 0h8m1 0h2m1 0h6m3 0h1m5 0h1m3 0h1M181 296.5h16m1 0h3m5 0h2m281 0h1m1 0h4m1 0h5m1 0h2m1 0h27m2 0h4m1 0h1m7 0h1m14 0h1M181 297.5h13m1 0h4m2 0h8m1 0h1m278 0h41m1 0h11m1 0h2m2 0h1m1 0h2m2 0h1m9 0h1M181 298.5h20m1 0h4m284 0h3m1 0h2m1 0h3m1 0h35m2 0h1m3 0h1m2 0h1m2 0h2M181 299.5h20m1 0h2m1 0h2m1 0h2m280 0h8m1 0h4m1 0h32m2 0h2m1 0h1m7 0h2M181 300.5h15m1 0h2m2 0h1m1 0h1m1 0h1m1 0h2m280 0h2m3 0h3m1 0h3m1 0h30m1 0h3m2 0h1m1 0h1m1 0h1m20 0h1M181 301.5h20m1 0h1m6 0h1m279 0h45m1 0h1m1 0h1m3 0h2m11 0h1M181 302.5h13m1 0h4m2 0h7m281 0h48m3 0h1m1 0h4m2 0h1m4 0h1M180 303.5h17m2 0h3m2 0h1m1 0h2m281 0h1m1 0h1m1 0h1m1 0h1m1 0h4m2 0h2m1 0h3m3 0h3m1 0h4m1 0h1m1 0h6m3 0h1m1 0h3m4 0h1m9 0h1M180 304.5h27m1 0h1M180 305.5h17m1 0h3m1 0h4M181 306.5h13m1 0h2m1 0h4m1 0h2m1 0h2M181 307.5h21m1 0h3M180 308.5h18m1 0h4M180 309.5h15m1 0h5m2 0h4M180 310.5h18m1 0h1m1 0h5M180 311.5h18m1 0h2m1 0h4M181 312.5h11m2 0h4m1 0h3m1 0h1M181 313.5h18m1 0h5M181 314.5h12m1 0h2m1 0h1m1 0h2m1 0h2M181 315.5h13m1 0h9M181 316.5h16m1 0h6M180 317.5h20m1 0h2M181 318.5h14m1 0h5M181 319.5h18m1 0h1M180 320.5h14m1 0h6M181 321.5h11m1 0h6m1 0h2M180 322.5h19m1 0h1M181 323.5h17m1 0h1M180 324.5h13m1 0h6M181 325.5h16m1 0h2M181 326.5h18M180 327.5h15m1 0h3M181 328.5h17M181 329.5h17M181 330.5h14m1 0h1M181 331.5h16M180 332.5h16M181 333.5h15M181 334.5h14M181 335.5h10m1 0h3M180 336.5h13M181 337.5h12M181 338.5h12M180 339.5h12M180 340.5h12M180 341.5h12M180 342.5h11M180 343.5h10M181 344.5h9M181 345.5h8M180 346.5h9M181 347.5h7M180 348.5h7M180 349.5h6M180 350.5h6M181 351.5h4M181 352.5h3M181 353.5h3M181 354.5h2" stroke="#1a71b8" stroke-width="1" fill="none"/><path d="M166.3 692.5h0M173.5 684.8h0M159.7 680.2h0M144.8 691.3h0M155.3 684.4h0M142.3 685.6h0M167.8 684.1h0M154.4 688.7h0M151.3 689.8h0M178.2 681.2h0M174.9 688.2h0M168.9 687.7h0M143.8 689.6h0M165.6 675.4h0M183.1 682.8h0M133.8 686.6h0M155.2 682.0h0M120.3 680.7h0M135.1 682.3h0M121.7 676.8h0M160.6 684.8h0M135.6 686.0h0M172.9 688.8h0M170.1 691.3h0M161.8 693.4h0M153.3 689.9h0M165.1 686.7h0M169.1 675.9h0M129.3 682.6h0M154.7 681.6h0M142.6 686.6h0M146.7 691.3h0M192.0 675.0h0M146.8 691.2h0M165.5 693.7h0M152.2 690.0h0M163.6 691.4h0M169.0 691.6h0M167.9 681.4h0M136.7 686.2h0M168.2 693.6h0M128.9 684.2h0M169.2 684.2h0M150.8 687.8h0M184.8 679.8h0M137.3 685.1h0M168.1 674.8h0M180.3 674.9h0M161.7 694.0h0M182.8 679.8h0M164.7 690.2h0M182.5 687.5h0M150.0 691.4h0M171.2 688.3h0M155.1 681.8h0M169.4 679.2h0M137.6 684.0h0M152.3 685.8h0M161.6 689.9h0M188.1 679.8h0M194.0 676.2h0M134.3 686.3h0M147.1 689.0h0M182.0 674.8h0M118.1 679.8h0M155.1 690.8h0M164.0 685.9h0M183.0 676.9h0M158.4 684.1h0M157.4 693.4h0M160.3 692.4h0M155.9 690.4h0M159.0 690.8h0M174.8 677.5h0M163.4 676.9h0M161.5 683.6h0M139.3 690.0h0M166.0 688.6h0M155.6 683.8h0M182.1 678.2h0M165.7 687.7h0M182.5 682.6h0M158.1 685.6h0M166.2 687.7h0M180.4 686.5h0M135.1 688.5h0M174.7 689.4h0M125.5 678.8h0M117.1 675.7h0M158.9 679.9h0M144.5 691.4h0M170.3 686.3h0M146.2 686.0h0M151.2 686.4h0M171.3 691.7h0M178.2 683.2h0M162.0 684.1h0M161.3 683.7h0M183.3 680.5h0M178.9 687.1h0M141.3 684.6h0M164.4 686.0h0M167.2 680.3h0M140.8 687.2h0M172.6 691.1h0M145.5 690.4h0M189.8 685.3h0M171.0 689.4h0M168.5 689.9h0M152.0 689.1h0M163.4 689.0h0M118.0 677.9h0M138.9 684.7h0M175.1 691.5h0M114.8 677.7h0M124.1 680.1h0M184.6 680.2h0M145.8 690.2h0M185.2 678.0h0M169.5 689.2h0M129.1 680.5h0M164.7 688.5h0M159.7 694.9h0M162.4 679.5h0M142.7 689.4h0M153.2 683.7h0M165.1 679.3h0M147.1 685.3h0M151.2 688.3h0M135.4 683.2h0M196.7 674.5h0M162.6 690.4h0M189.7 677.4h0M166.6 687.7h0M149.5 685.6h0M158.4 682.5h0M152.8 692.3h0M166.5 691.0h0M157.2 689.3h0M159.0 688.0h0M132.9 681.5h0M146.8 684.7h0M150.1 683.5h0M140.8 686.0h0M174.5 679.1h0M200.4 676.3h0M131.1 684.5h0M161.3 695.2h0M151.0 684.6h0M123.7 681.6h0M184.1 687.3h0M165.7 688.3h0M168.0 687.6h0M148.1 686.3h0M177.3 691.1h0M153.3 691.3h0M162.8 679.1h0M139.5 684.7h0M136.9 685.2h0M154.0 691.5h0M173.4 675.6h0M165.5 679.8h0M155.6 687.7h0M154.0 692.3h0M181.6 685.6h0M159.0 689.3h0M162.6 689.2h0M166.8 692.9h0M194.8 676.5h0M182.8 680.7h0M175.6 686.3h0M152.7 689.5h0M132.9 685.5h0M189.3 679.5h0M189.7 674.7h0M162.9 686.1h0M179.4 686.7h0M186.4 678.1h0M188.6 678.2h0M155.3 685.0h0M136.1 684.1h0M178.3 675.4h0M187.4 674.7h0M138.6 685.2h0M125.4 683.2h0M186.1 674.7h0M141.7 689.3h0M166.0 689.4h0M186.6 685.5h0M126.5 682.2h0M115.2 678.5h0M172.6 680.0h0M167.4 679.6h0M160.4 682.8h0M167.2 691.5h0M145.5 687.3h0M129.7 680.9h0M162.3 694.4h0M142.8 690.1h0M126.5 683.1h0M178.5 682.0h0M164.8 691.3h0M176.1 681.3h0M142.4 689.0h0M150.4 686.6h0M142.1 687.7h0M144.9 687.0h0M171.0 688.3h0M147.4 686.6h0M174.9 677.9h0M174.5 678.2h0M132.6 687.1h0M164.1 684.0h0M166.0 689.1h0M131.2 684.1h0M155.2 687.7h0M184.3 678.8h0M164.3 690.1h0M168.3 688.7h0M159.3 689.5h0M165.8 686.0h0M113.1 677.1h0M149.6 688.8h0M118.7 679.4h0M153.5 694.0h0M167.4 688.3h0M137.9 686.2h0M143.5 689.3h0M193.7 683.8h0M170.1 676.0h0M167.5 676.0h0M165.0 691.0h0M167.2 686.0h0M185.8 681.0h0M179.7 687.2h0M171.5 680.2h0M141.1 685.7h0M178.7 676.2h0M149.7 686.5h0M192.8 684.9h0M135.5 687.3h0M163.0 685.8h0M166.1 680.8h0M134.3 685.7h0M155.1 688.6h0M175.5 691.3h0M172.4 687.6h0M164.8 689.1h0M168.3 674.7h0M140.2 689.0h0M159.8 694.5h0M162.0 688.0h0M174.4 689.2h0M166.2 678.2h0M152.9 691.7h0M156.9 684.8h0M122.3 681.6h0M188.5 683.2h0M182.5 675.4h0M169.0 677.5h0M171.5 688.1h0M160.2 693.9h0M161.4 685.4h0M167.6 684.4h0M179.8 681.2h0M164.9 679.8h0M152.3 688.6h0M150.9 688.2h0M178.6 681.5h0M167.9 685.1h0M157.9 689.0h0M139.5 689.2h0M164.7 689.0h0M187.5 682.4h0M156.8 691.3h0M160.8 682.4h0M161.0 693.4h0M169.0 689.7h0M127.8 682.0h0M160.6 690.3h0M145.6 690.4h0M187.7 680.2h0M147.7 688.3h0M180.3 677.3h0M158.7 680.3h0M151.7 684.2h0M170.9 684.9h0M166.3 685.6h0M142.3 688.5h0M177.5 686.6h0M160.1 680.0h0M161.4 694.1h0M141.0 689.4h0M174.0 679.5h0M136.1 685.2h0M139.5 688.4h0M144.4 689.0h0M192.5 673.9h0M172.6 690.9h0M161.5 693.5h0M152.0 689.4h0M133.6 682.2h0M167.3 675.9h0M143.5 686.2h0M145.6 690.4h0M154.1 693.9h0M173.4 683.8h0M161.3 694.2h0M171.5 674.5h0M173.5 692.2h0M159.1 690.1h0M165.3 690.6h0M171.3 692.7h0M164.3 685.4h0M178.5 689.4h0M167.7 680.7h0M125.5 681.9h0M175.7 675.6h0M119.2 675.8h0M132.2 685.3h0M162.7 684.1h0M124.9 681.7h0M157.3 681.9h0M149.9 683.8h0M181.7 683.1h0M171.6 691.3h0M147.4 685.1h0M138.0 685.4h0M165.0 690.1h0M162.0 685.3h0M138.4 687.9h0M169.1 675.9h0M138.5 687.6h0M193.2 681.2h0M192.0 684.7h0M192.6 678.7h0M154.8 681.5h0M178.8 686.6h0M163.1 686.7h0M156.9 681.0h0M158.1 694.9h0M134.9 686.6h0M131.4 681.7h0M185.5 686.5h0M161.7 679.4h0M171.5 676.9h0M190.5 683.5h0M124.4 679.9h0M147.3 687.9h0M170.6 679.9h0M175.8 685.8h0M157.2 689.3h0M191.2 681.3h0M171.4 687.4h0M136.9 688.1h0M143.8 685.7h0M177.5 684.2h0M120.4 677.1h0M180.8 684.7h0M198.8 675.6h0M157.0 681.0h0M159.2 689.9h0M139.0 686.3h0M162.1 678.8h0M150.6 690.4h0M170.3 677.8h0M125.9 683.7h0M157.0 684.3h0M136.0 683.5h0M174.5 678.5h0M141.0 684.5h0M154.2 690.8h0M155.2 687.6h0M165.1 690.4h0M153.3 693.1h0M146.3 688.9h0M158.9 684.1h0M141.5 685.9h0M135.1 688.5h0M165.1 676.5h0M187.7 682.7h0M129.3 684.2h0M166.4 678.3h0M150.6 684.1h0M142.7 686.5h0M187.0 681.3h0M153.8 688.5h0M147.4 685.4h0M175.7 684.9h0M160.8 682.0h0M148.1 685.8h0M180.5 681.2h0M162.6 679.3h0M180.9 682.6h0M165.2 680.2h0M140.0 686.3h0M163.8 688.7h0M167.6 683.7h0M189.5 675.0h0M144.4 688.1h0M165.4 692.3h0M124.6 677.5h0M140.1 690.2h0M122.6 676.7h0M164.9 684.5h0M193.1 682.7h0M129.4 680.8h0M140.0 687.6h0M148.3 686.4h0M139.0 684.7h0M175.5 681.5h0M146.8 692.1h0M148.8 685.2h0M180.4 676.9h0M148.0 684.6h0M176.8 686.2h0M142.8 686.3h0M137.0 683.7h0M121.9 680.1h0M158.6 688.9h0M172.2 686.3h0M165.6 694.3h0M170.2 688.9h0M167.5 687.6h0M141.2 690.1h0M128.6 680.8h0M141.8 688.3h0M134.0 684.5h0M184.4 683.3h0M186.2 681.1h0M143.0 686.5h0M132.7 684.5h0M157.7 686.2h0M179.1 680.0h0M140.3 684.7h0M191.5 680.7h0M140.2 687.1h0M159.4 684.4h0M129.9 685.8h0M142.7 685.1h0M186.2 683.3h0M156.6 684.1h0M145.2 686.0h0M120.5 677.6h0M156.8 681.8h0M165.6 692.7h0M164.3 684.9h0M164.0 681.0h0M139.2 684.2h0M164.7 682.5h0M165.4 682.9h0M197.5 675.5h0M163.0 684.8h0M147.8 687.9h0M164.7 677.5h0M151.6 684.5h0M148.3 686.1h0M164.9 677.1h0M141.1 690.3h0M181.0 675.2h0M163.8 686.3h0M172.4 678.3h0M161.9 690.1h0M148.7 688.6h0M143.4 686.2h0M160.6 694.8h0M153.0 690.6h0M172.0 683.5h0M166.2 677.9h0M133.3 686.1h0M167.9 678.1h0M133.8 686.5h0M151.4 690.4h0M159.2 686.6h0M116.1 675.0h0M168.5 676.8h0M170.0 676.5h0M162.5 690.7h0M156.0 684.4h0M157.3 685.7h0M498.6 635.5h0M477.8 691.1h0M463.7 689.5h0M484.2 650.8h0M496.5 643.3h0M468.3 692.4h0M465.2 694.4h0M478.7 676.5h0M482.1 675.5h0M475.2 693.5h0M469.7 691.2h0M474.7 684.9h0M457.7 694.9h0M456.9 687.9h0M474.0 694.6h0M460.6 673.2h0M480.7 641.8h0M505.2 649.5h0M459.1 654.4h0M485.2 665.6h0M459.7 685.9h0M470.7 693.7h0M479.5 684.6h0M516.6 623.5h0M505.2 635.9h0M480.4 657.3h0M482.3 653.6h0M463.9 642.1h0M461.6 635.2h0M479.5 682.4h0M456.4 637.0h0M507.0 650.6h0M457.9 679.9h0M479.9 679.2h0M465.8 686.9h0M483.7 659.2h0M512.9 621.5h0M473.1 638.1h0M479.6 685.7h0M475.7 689.9h0M475.1 679.6h0M471.6 687.3h0M465.7 688.7h0M514.3 643.3h0M466.8 677.3h0M463.8 657.7h0M474.9 677.2h0M526.8 620.0h0M503.4 655.4h0M470.5 688.8h0M478.2 639.3h0M481.4 679.0h0M478.6 666.6h0M483.6 679.2h0M493.7 663.9h0M479.6 677.8h0M491.4 676.8h0M472.3 687.8h0M529.4 622.3h0M475.2 684.6h0M460.9 679.5h0M480.4 670.1h0M476.1 689.9h0M467.0 683.2h0M461.4 670.4h0M472.7 656.1h0M492.8 660.1h0M460.7 673.3h0M454.3 648.2h0M509.5 642.1h0M488.7 680.8h0M483.9 682.5h0M497.8 652.6h0M483.7 670.1h0M491.9 634.4h0M470.3 695.2h0M491.0 659.7h0M465.3 674.8h0M460.1 684.3h0M502.6 631.0h0M473.8 684.0h0M519.3 638.2h0M482.9 632.2h0M484.5 621.6h0M456.0 689.4h0M452.6 685.8h0M453.4 690.2h0M476.6 676.9h0M525.0 627.3h0M459.6 651.0h0M456.7 687.4h0M473.1 690.8h0M470.2 641.7h0M456.5 652.8h0M476.1 695.1h0M460.1 655.8h0M467.6 685.8h0M480.3 678.8h0M475.3 691.0h0M529.8 619.3h0M479.8 666.5h0M457.9 653.3h0M453.3 683.1h0M479.7 672.8h0M483.3 650.8h0M469.3 642.0h0M466.3 627.3h0M464.9 682.0h0M463.8 682.5h0M468.8 670.7h0M467.1 677.7h0M504.4 635.4h0M472.1 673.1h0M488.2 672.9h0M478.1 662.8h0M467.9 657.8h0M491.0 674.4h0M470.1 695.2h0M505.9 643.0h0M460.3 690.3h0M522.3 632.2h0M475.4 682.0h0M465.8 681.4h0M465.2 660.2h0M460.5 627.3h0M454.8 672.4h0M458.7 664.6h0M467.7 669.8h0M467.9 690.4h0M467.0 679.2h0M455.4 626.4h0M464.8 624.3h0M454.8 681.5h0M454.4 626.1h0M461.4 695.0h0M493.2 644.5h0M457.3 694.3h0M493.0 668.9h0M496.8 669.9h0M480.6 668.2h0M455.6 624.1h0M460.4 674.5h0M464.8 694.9h0M480.7 688.6h0M516.3 641.8h0M473.9 689.5h0M477.8 692.4h0M456.1 684.7h0M493.3 620.6h0M474.1 667.5h0M456.6 687.8h0M484.9 649.8h0M477.2 672.6h0M503.8 658.7h0M455.9 618.9h0M470.1 646.2h0M456.1 660.2h0M470.1 618.6h0M469.3 662.6h0M469.1 666.8h0M521.0 632.6h0M477.1 622.5h0M483.9 644.4h0M458.2 673.6h0M463.1 670.7h0M459.3 695.2h0M471.7 682.5h0M472.1 639.3h0M465.3 663.9h0M490.7 632.0h0M454.5 648.8h0M499.0 657.6h0M457.3 636.7h0M474.0 663.2h0M511.6 649.0h0M461.0 663.9h0M454.8 674.5h0M485.4 640.4h0M470.1 692.6h0M483.0 620.7h0M469.8 622.2h0M501.6 634.4h0M481.3 665.7h0M469.7 667.0h0M479.8 670.7h0M492.6 666.3h0M469.5 683.7h0M474.9 637.3h0M498.5 629.7h0M476.2 663.0h0M458.8 632.3h0M487.1 678.9h0M461.4 631.7h0M511.3 621.0h0M479.0 648.7h0M514.5 622.0h0M484.9 643.8h0M502.4 646.7h0M475.4 665.2h0M460.0 693.1h0M476.1 689.4h0M509.8 634.7h0M469.7 686.3h0M509.2 647.3h0M475.8 687.5h0M513.5 641.2h0M468.6 622.7h0M506.0 653.2h0M472.8 694.1h0M512.8 642.9h0M470.1 665.0h0M493.0 631.2h0M481.1 686.3h0M477.7 679.7h0M475.4 626.2h0M473.3 633.8h0M523.8 627.1h0M487.3 661.4h0M456.3 648.4h0M472.6 624.9h0M485.5 649.6h0M457.0 691.4h0M467.7 687.9h0M470.4 695.4h0M455.6 689.5h0M460.7 694.5h0M490.8 672.1h0M453.8 653.4h0M460.2 631.6h0M489.0 670.3h0M474.8 687.6h0M487.9 627.1h0M517.5 626.4h0M469.5 620.6h0M454.3 693.3h0M496.7 655.6h0M487.5 652.2h0M469.5 660.3h0M471.9 685.9h0M456.2 626.0h0M466.4 660.1h0M468.3 694.1h0M487.3 675.0h0M470.5 643.7h0M449.9 681.9h0M459.7 639.3h0M463.7 684.5h0M481.3 668.4h0M479.5 678.9h0M473.1 689.5h0M516.7 629.5h0M479.8 675.4h0M496.6 641.6h0M496.4 628.8h0M477.1 679.5h0M471.3 695.3h0M502.5 661.0h0M459.9 682.8h0M499.6 630.4h0M455.6 686.4h0M466.3 644.3h0M477.5 693.9h0M467.9 680.4h0M472.4 685.3h0M467.2 632.4h0M481.3 654.9h0M454.8 649.7h0M469.6 692.0h0M490.0 677.7h0M503.1 628.7h0M490.1 653.7h0M487.6 641.0h0M469.1 662.9h0M478.4 683.7h0M479.4 626.7h0M463.0 680.9h0M469.8 687.0h0M509.7 650.6h0M474.0 691.8h0M496.4 640.4h0M461.8 645.1h0M487.5 672.2h0M473.7 661.8h0M482.9 664.1h0M468.4 692.4h0M475.7 692.1h0M450.5 674.5h0M454.9 694.1h0M462.3 686.0h0M461.4 673.5h0M491.7 652.5h0M458.1 661.8h0M456.9 686.3h0M486.5 640.9h0M451.9 637.7h0M499.8 649.4h0M473.0 647.2h0M461.6 681.6h0M493.9 633.7h0M506.0 656.0h0M460.8 686.5h0M466.1 647.5h0M473.8 652.4h0M494.6 657.4h0M497.5 665.4h0M462.0 640.2h0M455.5 643.5h0M468.5 655.7h0M462.4 692.8h0M477.9 683.0h0M507.1 620.5h0M486.1 670.7h0M474.6 652.0h0M464.6 689.3h0M503.1 657.2h0M451.9 654.0h0M453.7 640.6h0M451.2 621.4h0M491.4 666.6h0M471.9 677.4h0M475.5 687.6h0M479.4 675.8h0M490.4 667.6h0M493.9 621.9h0M468.4 662.1h0M459.8 648.3h0M478.7 643.2h0M458.5 695.0h0M485.4 683.0h0M492.0 659.8h0M460.4 693.2h0M468.6 688.2h0M482.7 641.5h0M488.0 648.4h0M482.1 686.5h0M458.8 690.1h0M496.7 633.2h0M476.5 665.3h0M490.3 677.2h0M467.6 644.4h0M491.7 648.9h0M457.8 619.0h0M466.6 690.9h0M516.1 640.0h0M486.4 666.2h0M452.6 681.9h0M501.4 663.2h0M466.8 694.8h0M469.2 689.7h0M481.0 688.6h0M489.1 646.8h0M466.9 645.4h0M468.8 682.2h0M481.9 677.8h0M478.7 639.7h0M458.4 671.9h0M469.0 674.8h0M458.4 623.7h0M459.4 659.4h0M456.4 659.9h0M481.1 653.9h0M460.3 694.0h0M456.5 671.0h0M502.6 638.2h0M487.9 650.4h0M513.2 628.9h0M454.7 677.6h0M482.4 665.0h0M460.1 682.8h0M469.0 686.0h0M464.3 691.6h0M471.0 685.2h0M470.8 687.4h0M495.2 667.9h0M480.4 670.1h0M476.2 640.4h0M505.6 639.2h0M457.6 659.7h0M498.3 649.9h0M480.1 665.6h0M461.8 677.6h0M489.6 662.8h0M460.2 652.1h0M454.6 622.8h0M471.5 635.7h0M467.4 692.8h0M488.7 651.4h0M462.1 691.6h0M485.4 652.9h0M522.5 632.7h0M514.2 646.2h0M474.5 690.0h0M461.3 669.1h0M467.6 685.4h0M500.2 649.6h0M508.1 645.2h0M513.6 642.9h0M468.5 674.2h0M472.5 655.0h0M462.0 684.6h0M513.0 625.2h0M526.5 624.4h0M466.7 694.4h0M476.9 657.8h0M494.8 644.6h0M467.9 683.1h0M467.6 694.3h0M458.0 695.3h0M458.2 645.5h0M464.0 695.1h0M463.5 672.0h0M462.5 637.3h0M479.5 692.0h0M496.0 645.6h0M470.9 668.5h0M495.7 671.7h0M459.3 664.3h0M466.9 674.5h0M516.4 631.5h0M510.5 648.8h0M486.8 671.9h0M458.2 690.0h0M481.0 662.7h0M457.1 618.6h0M455.4 628.8h0M477.4 692.0h0M452.6 674.2h0M455.0 665.5h0M458.3 670.5h0M474.2 690.4h0M473.4 686.0h0M465.1 660.2h0M478.6 644.3h0M512.2 644.7h0M465.1 648.6h0M453.7 648.4h0M469.4 695.2h0M456.0 683.2h0M475.9 675.7h0M460.8 681.4h0M453.8 671.8h0M482.2 671.0h0M483.3 675.4h0M462.1 695.1h0M463.7 631.2h0M529.3 622.6h0M466.3 653.4h0M460.4 680.2h0M470.2 667.0h0M471.1 626.8h0M464.6 654.8h0M509.4 646.4h0M458.2 646.1h0M519.2 620.3h0M483.4 650.1h0M454.7 689.4h0M460.4 662.6h0M501.4 625.9h0M470.4 689.4h0M458.6 693.5h0M461.3 693.6h0M479.1 691.3h0M476.4 687.1h0M495.8 639.8h0M504.1 654.8h0M467.5 643.3h0M469.6 658.4h0M487.3 674.4h0M482.9 638.4h0M467.9 687.0h0M486.7 674.0h0M497.5 669.8h0M506.4 647.9h0M502.9 640.7h0M476.4 657.6h0M492.4 654.1h0M460.0 679.7h0M465.0 655.4h0M466.4 633.2h0M483.7 667.9h0M514.2 641.6h0M490.9 662.4h0M466.4 662.0h0M489.4 654.1h0M461.4 688.8h0M480.9 682.2h0M468.6 686.7h0M466.5 660.2h0M470.7 648.8h0M456.5 645.5h0M464.7 684.6h0M465.5 675.9h0M467.5 688.5h0M491.7 650.2h0M494.4 669.3h0M483.1 680.2h0M473.4 683.5h0M481.7 623.3h0M461.6 664.5h0M499.0 619.3h0M456.8 676.8h0M455.0 683.0h0M491.7 644.7h0M465.2 626.8h0M480.1 685.7h0M500.1 631.5h0M480.7 655.8h0M522.9 627.6h0M463.3 623.6h0M467.7 668.9h0M492.6 624.1h0M484.5 683.1h0M455.7 667.5h0M480.8 667.6h0M485.9 682.1h0M457.1 664.3h0M498.3 641.5h0M473.4 690.6h0M469.3 664.6h0M479.0 661.0h0M484.1 682.2h0M479.6 651.2h0M467.9 681.6h0M483.5 657.2h0M454.1 657.2h0M504.2 641.8h0M457.1 624.7h0M527.4 625.5h0M501.0 662.9h0M483.2 680.9h0M484.7 682.3h0M493.6 638.4h0M473.2 640.8h0M493.6 637.7h0M500.4 634.1h0M457.9 657.7h0M510.6 628.2h0M467.5 649.9h0M481.9 652.1h0M471.9 633.8h0M469.2 650.3h0M510.4 640.1h0M511.8 625.2h0M456.3 671.3h0M501.9 641.6h0M488.4 678.4h0M486.5 664.1h0M503.4 630.4h0M473.6 621.0h0M507.1 623.5h0M475.0 641.0h0M518.4 632.8h0M504.8 629.4h0M470.7 653.9h0M484.5 682.2h0M473.7 694.9h0M465.8 640.7h0M467.3 640.8h0M454.5 643.4h0M493.3 656.5h0M458.9 649.8h0M469.9 644.5h0M490.3 660.5h0M471.1 649.8h0M462.8 683.5h0M456.3 660.3h0M454.2 652.3h0M483.9 657.4h0M455.2 681.3h0M482.2 687.1h0M453.3 650.1h0M462.8 690.4h0M464.5 637.7h0M482.6 683.7h0M502.5 639.7h0M458.2 674.3h0M456.7 627.8h0M454.9 682.3h0M476.6 687.4h0M497.8 648.3h0M495.2 639.6h0M470.5 674.7h0M475.4 665.3h0M487.0 649.5h0M454.8 678.7h0M486.6 671.8h0M493.5 657.6h0M478.9 678.1h0M460.3 688.5h0M468.0 627.2h0M482.6 687.2h0M529.0 619.7h0M505.5 633.1h0M489.2 667.3h0M485.9 631.6h0M477.1 692.3h0M489.9 657.9h0M468.1 674.4h0M477.1 678.3h0M456.6 628.5h0M464.5 694.1h0M513.3 631.5h0M467.2 692.2h0M486.2 648.1h0M474.6 679.3h0M500.9 660.9h0M467.2 625.6h0M499.2 637.4h0M466.9 691.1h0M462.9 677.9h0M456.4 664.0h0M491.0 644.7h0M458.9 695.3h0M494.9 631.3h0M481.8 633.4h0M484.1 622.7h0M482.5 682.4h0M456.9 683.8h0M491.0 634.2h0M472.3 661.9h0M449.5 679.6h0M397.1 637.1h0M442.1 682.2h0M447.7 676.0h0M401.8 638.3h0M444.0 648.3h0M446.5 673.3h0M429.5 670.5h0M450.7 688.8h0M435.5 674.2h0M417.7 668.5h0M447.6 661.6h0M449.6 689.1h0M439.6 657.9h0M447.1 684.3h0M423.3 638.9h0M454.1 679.8h0M412.9 654.9h0M454.3 675.6h0M450.0 683.6h0M435.9 670.4h0M438.8 669.1h0M454.3 671.0h0M451.8 681.2h0M435.4 679.5h0M443.5 678.5h0M450.7 683.8h0M430.3 652.3h0M430.0 677.0h0M452.5 682.0h0M400.2 646.3h0M436.8 656.1h0M443.8 682.8h0M442.2 659.8h0M428.2 669.4h0M437.5 669.6h0M443.0 684.5h0M430.0 657.4h0M422.0 667.5h0M408.9 642.0h0M443.2 673.1h0M445.3 677.3h0M450.2 680.2h0M439.0 683.2h0M446.2 666.7h0M442.7 675.4h0M443.4 639.4h0M418.2 656.1h0M454.0 693.3h0M449.1 677.0h0M449.3 669.5h0M423.0 668.9h0M432.9 678.6h0M443.4 677.1h0M454.0 684.6h0M447.0 685.9h0M387.6 648.0h0M442.1 679.9h0M439.5 666.6h0M449.3 677.4h0M415.4 658.4h0M441.2 670.1h0M441.0 684.1h0M442.7 682.8h0M417.8 660.0h0M418.2 662.3h0M439.1 676.5h0M446.5 674.5h0M426.8 671.0h0M435.2 680.3h0M439.0 676.2h0M403.3 654.6h0M445.5 674.0h0M438.1 676.1h0M433.9 654.6h0M449.0 681.1h0M454.1 683.4h0M399.4 653.0h0M432.7 658.1h0M449.3 633.3h0M415.8 647.5h0M447.3 654.7h0M450.8 668.9h0M433.7 676.4h0M442.3 679.3h0M399.7 649.2h0M423.1 667.3h0M453.0 638.9h0M427.7 670.4h0M453.9 640.0h0M410.4 659.2h0M433.4 676.1h0M431.6 671.7h0M427.8 659.4h0M439.2 669.9h0M421.3 643.3h0M429.5 663.6h0M450.9 682.9h0M396.5 652.8h0M423.9 661.9h0M452.0 670.3h0M431.1 657.6h0M426.9 673.4h0M437.7 655.3h0M448.2 688.8h0M438.6 676.1h0M422.4 662.5h0M453.6 675.8h0M453.0 651.2h0M454.2 691.2h0M423.6 668.6h0M438.5 669.9h0M422.7 663.5h0M447.1 687.3h0M431.2 668.4h0M436.7 672.6h0M434.3 678.2h0M450.7 667.6h0M449.2 649.7h0M446.4 685.9h0M437.0 672.2h0M407.8 661.4h0M440.1 648.4h0M444.5 676.9h0M416.0 653.5h0M428.0 668.0h0M451.2 659.5h0M450.5 683.5h0M451.2 690.5h0M419.5 660.9h0M440.7 678.3h0M406.1 657.1h0M440.6 680.0h0M415.3 641.4h0M431.0 673.0h0M447.8 676.5h0M449.1 621.8h0M448.2 666.4h0M441.9 676.1h0M400.2 653.8h0M453.6 685.0h0M490.2 680.8h0M490.5 679.8h0M502.8 665.6h0M481.5 688.6h0M525.8 634.7h0M479.6 689.5h0M494.9 675.1h0M487.9 685.9h0M479.9 691.3h0M479.9 691.5h0M485.8 686.2h0M491.1 683.5h0M483.6 687.6h0M508.8 654.2h0M482.9 689.6h0M479.9 689.9h0M553.8 631.5h0M483.4 686.8h0M496.6 679.5h0M533.1 649.8h0M507.1 667.1h0M484.4 688.6h0M501.4 668.4h0M480.1 691.1h0M497.8 672.0h0M491.0 679.1h0M489.1 683.5h0M494.9 677.5h0M496.8 670.8h0M542.5 634.0h0M483.3 686.8h0M483.9 686.8h0M490.5 684.2h0M509.1 665.6h0M484.9 686.1h0M488.0 685.9h0M486.1 684.8h0M493.8 675.6h0M489.3 682.1h0M505.9 660.8h0M483.4 687.6h0M507.8 658.5h0M523.9 647.2h0M479.8 690.7h0M512.5 659.2h0M481.5 689.8h0M483.9 688.2h0M480.3 690.3h0M501.3 671.8h0M496.7 673.0h0M497.2 672.2h0M481.1 688.6h0M483.5 686.7h0M483.1 688.5h0M529.4 644.5h0M501.9 673.7h0M536.6 625.6h0M512.4 658.1h0M502.4 667.1h0M485.5 685.7h0M482.8 687.8h0M501.4 673.5h0M514.7 666.1h0M487.8 683.3h0M499.9 667.6h0M491.1 681.2h0M505.9 663.1h0M492.2 682.5h0M479.4 690.9h0M481.1 689.3h0M483.8 687.0h0M480.3 690.9h0M517.4 662.6h0M500.8 665.6h0M482.9 687.1h0M481.2 690.5h0M493.8 676.2h0M482.4 689.5h0M487.2 684.2h0M505.8 667.3h0M510.8 663.3h0M492.8 681.6h0M487.5 684.6h0M480.0 690.0h0M480.7 689.8h0M506.0 671.4h0M492.0 678.6h0M491.1 682.2h0M520.9 655.5h0M485.4 686.0h0M482.5 689.4h0M485.2 685.3h0M487.2 684.7h0M519.2 644.4h0M553.8 622.1h0M491.3 681.4h0M526.7 650.6h0M486.3 686.5h0M493.8 679.0h0M480.4 689.2h0M538.7 630.5h0M499.5 676.5h0M510.8 664.1h0M495.3 680.4h0M504.1 661.6h0M480.8 691.1h0M543.6 623.7h0M498.1 672.1h0M482.3 689.5h0M534.4 618.8h0M481.1 688.1h0M492.6 681.3h0M487.3 686.1h0M504.0 667.3h0M482.6 688.2h0M482.6 688.1h0M479.9 689.1h0M483.1 687.3h0M494.2 679.3h0M491.5 679.5h0M500.6 671.7h0M498.1 669.1h0M516.5 654.8h0M497.3 679.2h0M513.0 649.6h0M479.3 691.5h0M497.4 671.6h0M522.0 645.5h0M484.7 686.2h0M496.0 674.1h0M480.6 688.7h0M502.0 665.5h0M490.7 681.0h0M484.6 687.5h0M490.0 682.5h0M492.3 681.3h0M503.6 670.2h0M492.0 680.6h0M550.9 621.1h0M500.5 673.7h0M522.8 652.7h0M494.5 679.1h0M520.9 657.4h0M479.9 690.2h0M493.3 681.5h0M507.8 667.6h0M481.3 690.4h0M499.1 670.6h0M533.5 643.5h0M488.8 685.1h0M487.0 684.3h0M480.1 690.4h0M481.8 689.6h0M497.8 675.6h0M484.7 686.7h0M491.1 683.4h0M553.8 632.0h0M510.5 653.2h0M485.1 686.1h0M484.2 688.1h0M491.8 678.3h0" stroke="#bfbfbf" stroke-width="3.40" stroke-linecap="round" fill="none"/><path d="M174.4 662.3h0M192.2 599.6h0M163.5 671.2h0M165.4 668.0h0M184.3 645.3h0M169.1 662.6h0M187.5 604.0h0M169.1 671.6h0M170.1 655.2h0M169.0 663.9h0M166.5 668.2h0M164.5 665.4h0M176.8 650.1h0M194.1 664.9h0M186.5 658.0h0M173.4 656.3h0M181.5 670.9h0M168.0 666.0h0M192.1 613.0h0M180.0 669.7h0M167.5 649.2h0M166.5 668.0h0M169.6 658.9h0M165.9 669.7h0M165.3 669.3h0M164.9 655.1h0M167.9 643.9h0M181.5 656.8h0M162.9 672.3h0M184.5 671.4h0M166.3 668.9h0M164.5 668.9h0M172.0 662.4h0M170.2 664.9h0M172.1 651.1h0M201.4 614.9h0M176.5 668.0h0M170.6 662.7h0M181.1 669.4h0M179.0 664.8h0M166.4 670.0h0M170.2 662.6h0M169.0 649.7h0M165.1 661.9h0M174.7 669.0h0M169.0 670.3h0M173.3 656.1h0M176.5 646.4h0M168.9 669.2h0M202.1 670.8h0M177.5 671.9h0M173.2 662.3h0M176.6 668.4h0M199.7 649.9h0M166.2 671.2h0M187.1 643.6h0M166.0 666.5h0M183.1 669.8h0M165.0 668.7h0M172.7 665.2h0M168.5 656.2h0M170.7 662.0h0M190.3 656.7h0M192.8 654.1h0M175.2 671.9h0M169.0 659.9h0M189.5 654.5h0M165.6 666.8h0M164.1 670.0h0M174.3 657.0h0M178.0 670.7h0M175.4 662.6h0M167.6 666.9h0M171.0 641.7h0M168.4 664.2h0M190.7 671.0h0M167.9 658.3h0M165.4 671.5h0M173.4 659.1h0M169.2 650.1h0M179.6 652.5h0M162.4 667.4h0M187.8 629.5h0M178.8 654.7h0M171.3 667.6h0M169.0 669.4h0M180.9 665.7h0M180.6 654.6h0M211.4 662.5h0M176.1 649.9h0M184.1 649.9h0M169.1 658.5h0M198.2 652.0h0M186.7 647.4h0M166.6 666.7h0M179.7 663.0h0M213.0 657.0h0M190.6 649.3h0M187.3 631.6h0M170.8 667.4h0M175.2 660.7h0M181.8 671.6h0M163.2 667.6h0M206.7 666.9h0M206.8 617.9h0M173.3 663.6h0M167.2 668.5h0M193.0 660.1h0M171.7 657.5h0M164.6 667.0h0M180.8 638.6h0M175.4 657.9h0M169.0 669.7h0M168.6 663.0h0M168.6 656.0h0M175.4 667.9h0M170.0 670.3h0M191.8 652.1h0M199.9 624.2h0M173.4 653.7h0M175.6 643.3h0M191.9 608.1h0M168.8 664.7h0M180.3 653.2h0M197.3 667.2h0M172.6 672.6h0M162.5 671.9h0M165.3 672.3h0M168.3 669.6h0M175.1 658.6h0M163.2 672.0h0M164.0 666.3h0M181.2 668.8h0M185.1 672.1h0M173.6 639.3h0M195.4 664.9h0M194.3 662.3h0M192.3 591.5h0M165.1 669.8h0M214.6 609.7h0M164.2 665.5h0M171.8 661.9h0M179.8 662.8h0M173.0 656.7h0M185.2 661.6h0M172.4 670.5h0M165.1 668.0h0M164.1 661.3h0M220.7 652.7h0M163.2 667.4h0M185.1 646.3h0M165.7 669.9h0M168.0 672.1h0M169.4 641.2h0M187.3 650.1h0M175.7 664.4h0M177.0 651.1h0M164.3 666.5h0M188.5 666.8h0M172.4 672.7h0M170.5 663.0h0M202.4 624.0h0M190.7 634.4h0M176.3 665.0h0M173.7 633.6h0M178.1 668.6h0M171.2 663.6h0M168.9 670.6h0M174.2 666.8h0M165.5 663.6h0M174.3 666.9h0M183.6 660.3h0M179.5 638.7h0M169.7 666.2h0M221.3 647.1h0M176.8 635.9h0M166.2 669.5h0M222.8 651.1h0M177.0 659.4h0M185.8 652.9h0M182.4 648.8h0M178.4 651.1h0M189.3 663.7h0M169.2 661.1h0M169.3 649.2h0M166.8 659.4h0M182.2 651.1h0M176.1 652.0h0M175.0 670.0h0M193.2 644.6h0M170.4 663.4h0M174.0 637.5h0M183.1 672.6h0M217.7 601.0h0M217.2 632.8h0M187.5 669.0h0M177.8 630.0h0M186.7 648.8h0M186.9 613.3h0M193.3 633.4h0M175.7 627.8h0M164.4 666.5h0M187.2 650.7h0M171.0 653.7h0M176.3 644.5h0M168.7 652.3h0M179.1 660.1h0M164.8 661.5h0M187.4 647.7h0M173.3 656.4h0M172.4 657.3h0M200.1 657.6h0M174.3 658.9h0M173.0 667.6h0M166.8 666.6h0M180.9 625.1h0M193.2 651.8h0M180.6 620.9h0M171.2 671.9h0M184.3 671.4h0M176.8 671.1h0M172.2 664.2h0M166.5 669.0h0M182.6 647.3h0M176.7 671.5h0M200.7 617.9h0M177.7 663.3h0M183.0 647.2h0M170.6 657.9h0M172.5 666.7h0M173.1 634.0h0M182.1 664.8h0M209.8 663.8h0M184.1 654.4h0M164.3 660.7h0M167.5 671.1h0M175.6 661.1h0M187.7 634.5h0M179.2 671.4h0M186.2 636.1h0M168.6 664.2h0M164.1 663.8h0M176.8 672.0h0M167.2 657.3h0M185.6 665.6h0M183.1 662.7h0M180.9 672.1h0M191.0 633.9h0M180.7 665.5h0M183.7 641.9h0M167.5 659.5h0M166.2 671.5h0M179.6 659.0h0M176.2 660.2h0M178.3 661.9h0M199.4 638.5h0M165.2 657.1h0M175.8 649.9h0M196.9 590.8h0M165.3 672.8h0M167.2 664.0h0M163.0 671.3h0M186.0 664.0h0M182.8 663.3h0M164.1 672.7h0M196.7 655.0h0M170.8 663.2h0M172.2 648.3h0M183.2 656.6h0M188.9 666.3h0M166.9 660.0h0M179.6 648.5h0M175.0 668.6h0M203.6 653.4h0M168.5 659.8h0M203.2 608.8h0M163.1 672.3h0M185.4 670.7h0M186.6 643.6h0M200.7 643.1h0M193.8 661.9h0M164.3 671.7h0M197.7 669.2h0M179.8 641.4h0M174.5 663.7h0M204.1 653.9h0M183.3 665.5h0M165.8 666.1h0M177.3 637.1h0M171.5 664.7h0M166.7 665.8h0M173.2 667.2h0M171.1 668.8h0M175.7 650.8h0M172.0 672.7h0M170.7 661.6h0M176.0 670.3h0M173.9 655.8h0M175.9 667.9h0M175.3 672.1h0M167.6 664.6h0M178.6 666.3h0M166.1 655.0h0M183.9 667.5h0M174.6 647.8h0M176.9 671.0h0M174.7 659.6h0M166.0 670.1h0M181.6 662.3h0M167.2 664.1h0M165.3 665.3h0M179.9 660.8h0M196.1 668.4h0M181.9 659.1h0M165.9 664.0h0M177.3 651.0h0M206.2 616.5h0M171.5 657.0h0M173.1 668.4h0M182.4 661.5h0M173.3 668.8h0M166.5 662.8h0M177.7 651.7h0M175.7 666.6h0M167.0 648.8h0M173.3 649.1h0M162.3 667.5h0M163.9 663.5h0M162.4 670.1h0M163.3 666.4h0M178.7 670.3h0M177.5 668.5h0M162.9 672.2h0M186.3 672.7h0M191.9 671.1h0M176.1 655.2h0M180.9 663.5h0M181.2 658.4h0M169.3 669.3h0M204.3 633.6h0M167.1 654.7h0M171.1 663.5h0M161.8 672.1h0M187.3 641.9h0M169.1 660.3h0M208.9 663.0h0M162.0 660.0h0M173.5 669.7h0M170.9 669.2h0M166.9 663.3h0M171.7 655.5h0M176.0 636.0h0M174.7 670.3h0M172.3 664.7h0M180.7 643.4h0M172.5 654.9h0M200.2 647.4h0M167.9 667.2h0M174.6 666.7h0M181.9 669.1h0M183.6 671.5h0M201.2 618.4h0M169.7 660.4h0M190.6 636.6h0M174.8 640.1h0M162.8 671.4h0M188.4 665.3h0M164.9 664.6h0M170.1 665.0h0M182.1 644.1h0M169.6 671.3h0M167.0 668.4h0M182.4 667.2h0M191.3 669.3h0M169.2 658.9h0M171.5 670.9h0M180.4 653.1h0M176.0 637.8h0M211.3 645.4h0M171.9 656.2h0M167.1 658.9h0M171.0 671.2h0M180.0 665.2h0M168.4 669.4h0M163.8 669.1h0M218.6 670.2h0M182.9 649.3h0M165.4 651.5h0M166.6 655.7h0M194.7 626.8h0M187.1 645.4h0M165.5 670.1h0M177.3 667.7h0M177.9 670.5h0M179.1 640.0h0M178.2 665.1h0M171.1 665.3h0M187.3 635.0h0M177.6 671.2h0M169.3 667.6h0M257.9 516.9h0M262.5 535.3h0M246.0 561.0h0M206.8 566.7h0M200.9 589.9h0M211.5 595.2h0M222.9 599.4h0M207.6 602.8h0M208.8 606.7h0M214.5 606.2h0M266.3 637.2h0M243.4 626.8h0M238.7 616.8h0M230.6 614.8h0M234.5 638.6h0M227.2 622.1h0M220.2 619.8h0M219.9 633.6h0M222.4 646.1h0M221.9 653.7h0M222.7 657.9h0M215.2 657.9h0M211.8 661.2h0M219.4 661.7h0M207.6 663.8h0M216.8 665.4h0M219.4 669.1h0M210.1 671.3h0M188.8 609.7h0M193.4 611.6h0M198.2 613.6h0M178.9 619.5h0M220.5 619.9h0M227.4 621.8h0M174.3 626.2h0M170.4 637.0h0M219.7 633.7h0M526.6 516.9h0M515.7 539.3h0M560.6 554.6h0M555.2 566.2h0M474.2 568.9h0M483.4 570.2h0M473.5 574.4h0M530.7 571.7h0M531.0 574.1h0M565.3 578.3h0M533.5 579.1h0M537.4 581.8h0M553.2 584.0h0M468.3 585.5h0M497.7 583.0h0M506.3 586.2h0M512.5 587.7h0M541.8 586.0h0M546.5 589.7h0M522.1 589.4h0M521.6 591.1h0M499.4 592.1h0M541.1 592.1h0M559.4 591.9h0M470.3 593.6h0M468.6 596.1h0M469.1 598.3h0M548.0 595.8h0M526.6 598.3h0M520.6 599.8h0M523.6 601.3h0M515.4 603.5h0M513.2 604.2h0M519.9 604.5h0M468.1 606.2h0M479.4 606.0h0M483.9 607.2h0M509.3 606.0h0M504.3 606.7h0M565.5 607.7h0M493.5 609.4h0M496.2 609.9h0M471.0 609.9h0M473.5 611.6h0M477.2 612.9h0M474.7 614.6h0M484.6 613.6h0M500.2 612.9h0M504.3 611.6h0M511.7 612.1h0M514.2 612.4h0M524.6 612.9h0M496.5 615.8h0M502.6 616.6h0M506.1 616.6h0M522.6 617.1h0M535.2 614.6h0" stroke="#1b4f7c" stroke-width="3.60" stroke-linecap="round" fill="none"/><path d="M174.4 662.3h0M192.2 599.6h0M163.5 671.2h0M165.4 668.0h0M184.3 645.3h0M169.1 662.6h0M187.5 604.0h0M169.1 671.6h0M170.1 655.2h0M169.0 663.9h0M166.5 668.2h0M164.5 665.4h0M176.8 650.1h0M194.1 664.9h0M186.5 658.0h0M173.4 656.3h0M181.5 670.9h0M168.0 666.0h0M192.1 613.0h0M180.0 669.7h0M167.5 649.2h0M166.5 668.0h0M169.6 658.9h0M165.9 669.7h0M165.3 669.3h0M164.9 655.1h0M167.9 643.9h0M181.5 656.8h0M162.9 672.3h0M184.5 671.4h0M166.3 668.9h0M164.5 668.9h0M172.0 662.4h0M170.2 664.9h0M172.1 651.1h0M201.4 614.9h0M176.5 668.0h0M170.6 662.7h0M181.1 669.4h0M179.0 664.8h0M166.4 670.0h0M170.2 662.6h0M169.0 649.7h0M165.1 661.9h0M174.7 669.0h0M169.0 670.3h0M173.3 656.1h0M176.5 646.4h0M168.9 669.2h0M202.1 670.8h0M177.5 671.9h0M173.2 662.3h0M176.6 668.4h0M199.7 649.9h0M166.2 671.2h0M187.1 643.6h0M166.0 666.5h0M183.1 669.8h0M165.0 668.7h0M172.7 665.2h0M168.5 656.2h0M170.7 662.0h0M190.3 656.7h0M192.8 654.1h0M175.2 671.9h0M169.0 659.9h0M189.5 654.5h0M165.6 666.8h0M164.1 670.0h0M174.3 657.0h0M178.0 670.7h0M175.4 662.6h0M167.6 666.9h0M171.0 641.7h0M168.4 664.2h0M190.7 671.0h0M167.9 658.3h0M165.4 671.5h0M173.4 659.1h0M169.2 650.1h0M179.6 652.5h0M162.4 667.4h0M187.8 629.5h0M178.8 654.7h0M171.3 667.6h0M169.0 669.4h0M180.9 665.7h0M180.6 654.6h0M211.4 662.5h0M176.1 649.9h0M184.1 649.9h0M169.1 658.5h0M198.2 652.0h0M186.7 647.4h0M166.6 666.7h0M179.7 663.0h0M213.0 657.0h0M190.6 649.3h0M187.3 631.6h0M170.8 667.4h0M175.2 660.7h0M181.8 671.6h0M163.2 667.6h0M206.7 666.9h0M206.8 617.9h0M173.3 663.6h0M167.2 668.5h0M193.0 660.1h0M171.7 657.5h0M164.6 667.0h0M180.8 638.6h0M175.4 657.9h0M169.0 669.7h0M168.6 663.0h0M168.6 656.0h0M175.4 667.9h0M170.0 670.3h0M191.8 652.1h0M199.9 624.2h0M173.4 653.7h0M175.6 643.3h0M191.9 608.1h0M168.8 664.7h0M180.3 653.2h0M197.3 667.2h0M172.6 672.6h0M162.5 671.9h0M165.3 672.3h0M168.3 669.6h0M175.1 658.6h0M163.2 672.0h0M164.0 666.3h0M181.2 668.8h0M185.1 672.1h0M173.6 639.3h0M195.4 664.9h0M194.3 662.3h0M192.3 591.5h0M165.1 669.8h0M214.6 609.7h0M164.2 665.5h0M171.8 661.9h0M179.8 662.8h0M173.0 656.7h0M185.2 661.6h0M172.4 670.5h0M165.1 668.0h0M164.1 661.3h0M220.7 652.7h0M163.2 667.4h0M185.1 646.3h0M165.7 669.9h0M168.0 672.1h0M169.4 641.2h0M187.3 650.1h0M175.7 664.4h0M177.0 651.1h0M164.3 666.5h0M188.5 666.8h0M172.4 672.7h0M170.5 663.0h0M202.4 624.0h0M190.7 634.4h0M176.3 665.0h0M173.7 633.6h0M178.1 668.6h0M171.2 663.6h0M168.9 670.6h0M174.2 666.8h0M165.5 663.6h0M174.3 666.9h0M183.6 660.3h0M179.5 638.7h0M169.7 666.2h0M221.3 647.1h0M176.8 635.9h0M166.2 669.5h0M222.8 651.1h0M177.0 659.4h0M185.8 652.9h0M182.4 648.8h0M178.4 651.1h0M189.3 663.7h0M169.2 661.1h0M169.3 649.2h0M166.8 659.4h0M182.2 651.1h0M176.1 652.0h0M175.0 670.0h0M193.2 644.6h0M170.4 663.4h0M174.0 637.5h0M183.1 672.6h0M217.7 601.0h0M217.2 632.8h0M187.5 669.0h0M177.8 630.0h0M186.7 648.8h0M186.9 613.3h0M193.3 633.4h0M175.7 627.8h0M164.4 666.5h0M187.2 650.7h0M171.0 653.7h0M176.3 644.5h0M168.7 652.3h0M179.1 660.1h0M164.8 661.5h0M187.4 647.7h0M173.3 656.4h0M172.4 657.3h0M200.1 657.6h0M174.3 658.9h0M173.0 667.6h0M166.8 666.6h0M180.9 625.1h0M193.2 651.8h0M180.6 620.9h0M171.2 671.9h0M184.3 671.4h0M176.8 671.1h0M172.2 664.2h0M166.5 669.0h0M182.6 647.3h0M176.7 671.5h0M200.7 617.9h0M177.7 663.3h0M183.0 647.2h0M170.6 657.9h0M172.5 666.7h0M173.1 634.0h0M182.1 664.8h0M209.8 663.8h0M184.1 654.4h0M164.3 660.7h0M167.5 671.1h0M175.6 661.1h0M187.7 634.5h0M179.2 671.4h0M186.2 636.1h0M168.6 664.2h0M164.1 663.8h0M176.8 672.0h0M167.2 657.3h0M185.6 665.6h0M183.1 662.7h0M180.9 672.1h0M191.0 633.9h0M180.7 665.5h0M183.7 641.9h0M167.5 659.5h0M166.2 671.5h0M179.6 659.0h0M176.2 660.2h0M178.3 661.9h0M199.4 638.5h0M165.2 657.1h0M175.8 649.9h0M196.9 590.8h0M165.3 672.8h0M167.2 664.0h0M163.0 671.3h0M186.0 664.0h0M182.8 663.3h0M164.1 672.7h0M196.7 655.0h0M170.8 663.2h0M172.2 648.3h0M183.2 656.6h0M188.9 666.3h0M166.9 660.0h0M179.6 648.5h0M175.0 668.6h0M203.6 653.4h0M168.5 659.8h0M203.2 608.8h0M163.1 672.3h0M185.4 670.7h0M186.6 643.6h0M200.7 643.1h0M193.8 661.9h0M164.3 671.7h0M197.7 669.2h0M179.8 641.4h0M174.5 663.7h0M204.1 653.9h0M183.3 665.5h0M165.8 666.1h0M177.3 637.1h0M171.5 664.7h0M166.7 665.8h0M173.2 667.2h0M171.1 668.8h0M175.7 650.8h0M172.0 672.7h0M170.7 661.6h0M176.0 670.3h0M173.9 655.8h0M175.9 667.9h0M175.3 672.1h0M167.6 664.6h0M178.6 666.3h0M166.1 655.0h0M183.9 667.5h0M174.6 647.8h0M176.9 671.0h0M174.7 659.6h0M166.0 670.1h0M181.6 662.3h0M167.2 664.1h0M165.3 665.3h0M179.9 660.8h0M196.1 668.4h0M181.9 659.1h0M165.9 664.0h0M177.3 651.0h0M206.2 616.5h0M171.5 657.0h0M173.1 668.4h0M182.4 661.5h0M173.3 668.8h0M166.5 662.8h0M177.7 651.7h0M175.7 666.6h0M167.0 648.8h0M173.3 649.1h0M162.3 667.5h0M163.9 663.5h0M162.4 670.1h0M163.3 666.4h0M178.7 670.3h0M177.5 668.5h0M162.9 672.2h0M186.3 672.7h0M191.9 671.1h0M176.1 655.2h0M180.9 663.5h0M181.2 658.4h0M169.3 669.3h0M204.3 633.6h0M167.1 654.7h0M171.1 663.5h0M161.8 672.1h0M187.3 641.9h0M169.1 660.3h0M208.9 663.0h0M162.0 660.0h0M173.5 669.7h0M170.9 669.2h0M166.9 663.3h0M171.7 655.5h0M176.0 636.0h0M174.7 670.3h0M172.3 664.7h0M180.7 643.4h0M172.5 654.9h0M200.2 647.4h0M167.9 667.2h0M174.6 666.7h0M181.9 669.1h0M183.6 671.5h0M201.2 618.4h0M169.7 660.4h0M190.6 636.6h0M174.8 640.1h0M162.8 671.4h0M188.4 665.3h0M164.9 664.6h0M170.1 665.0h0M182.1 644.1h0M169.6 671.3h0M167.0 668.4h0M182.4 667.2h0M191.3 669.3h0M169.2 658.9h0M171.5 670.9h0M180.4 653.1h0M176.0 637.8h0M211.3 645.4h0M171.9 656.2h0M167.1 658.9h0M171.0 671.2h0M180.0 665.2h0M168.4 669.4h0M163.8 669.1h0M218.6 670.2h0M182.9 649.3h0M165.4 651.5h0M166.6 655.7h0M194.7 626.8h0M187.1 645.4h0M165.5 670.1h0M177.3 667.7h0M177.9 670.5h0M179.1 640.0h0M178.2 665.1h0M171.1 665.3h0M187.3 635.0h0M177.6 671.2h0M169.3 667.6h0M257.9 516.9h0M262.5 535.3h0M246.0 561.0h0M206.8 566.7h0M200.9 589.9h0M211.5 595.2h0M222.9 599.4h0M207.6 602.8h0M208.8 606.7h0M214.5 606.2h0M266.3 637.2h0M243.4 626.8h0M238.7 616.8h0M230.6 614.8h0M234.5 638.6h0M227.2 622.1h0M220.2 619.8h0M219.9 633.6h0M222.4 646.1h0M221.9 653.7h0M222.7 657.9h0M215.2 657.9h0M211.8 661.2h0M219.4 661.7h0M207.6 663.8h0M216.8 665.4h0M219.4 669.1h0M210.1 671.3h0M188.8 609.7h0M193.4 611.6h0M198.2 613.6h0M178.9 619.5h0M220.5 619.9h0M227.4 621.8h0M174.3 626.2h0M170.4 637.0h0M219.7 633.7h0M526.6 516.9h0M515.7 539.3h0M560.6 554.6h0M555.2 566.2h0M474.2 568.9h0M483.4 570.2h0M473.5 574.4h0M530.7 571.7h0M531.0 574.1h0M565.3 578.3h0M533.5 579.1h0M537.4 581.8h0M553.2 584.0h0M468.3 585.5h0M497.7 583.0h0M506.3 586.2h0M512.5 587.7h0M541.8 586.0h0M546.5 589.7h0M522.1 589.4h0M521.6 591.1h0M499.4 592.1h0M541.1 592.1h0M559.4 591.9h0M470.3 593.6h0M468.6 596.1h0M469.1 598.3h0M548.0 595.8h0M526.6 598.3h0M520.6 599.8h0M523.6 601.3h0M515.4 603.5h0M513.2 604.2h0M519.9 604.5h0M468.1 606.2h0M479.4 606.0h0M483.9 607.2h0M509.3 606.0h0M504.3 606.7h0M565.5 607.7h0M493.5 609.4h0M496.2 609.9h0M471.0 609.9h0M473.5 611.6h0M477.2 612.9h0M474.7 614.6h0M484.6 613.6h0M500.2 612.9h0M504.3 611.6h0M511.7 612.1h0M514.2 612.4h0M524.6 612.9h0M496.5 615.8h0M502.6 616.6h0M506.1 616.6h0M522.6 617.1h0M535.2 614.6h0" stroke="#1f6eb2" stroke-width="2.60" stroke-linecap="round" fill="none"/><path d="M98.5 567.9h0M58.2 620.0h0M96.0 614.5h0M100.1 615.9h0M90.4 634.2h0M114.1 634.7h0M82.0 639.2h0M85.3 642.2h0M96.4 641.8h0M92.1 644.3h0M117.2 646.2h0M94.2 650.8h0M105.8 653.0h0M77.4 657.4h0M105.9 664.1h0M107.2 668.7h0M122.0 668.2h0M110.4 672.8h0M152.7 671.4h0M361.4 525.9h0M371.7 568.2h0M370.1 586.6h0M408.6 601.8h0M396.1 608.8h0M380.4 612.9h0M382.0 612.4h0" stroke="#4e1a12" stroke-width="3.60" stroke-linecap="round" fill="none"/><path d="M98.5 567.9h0M58.2 620.0h0M96.0 614.5h0M100.1 615.9h0M90.4 634.2h0M114.1 634.7h0M82.0 639.2h0M85.3 642.2h0M96.4 641.8h0M92.1 644.3h0M117.2 646.2h0M94.2 650.8h0M105.8 653.0h0M77.4 657.4h0M105.9 664.1h0M107.2 668.7h0M122.0 668.2h0M110.4 672.8h0M152.7 671.4h0M361.4 525.9h0M371.7 568.2h0M370.1 586.6h0M408.6 601.8h0M396.1 608.8h0M380.4 612.9h0M382.0 612.4h0" stroke="#9a3420" stroke-width="2.50" stroke-linecap="round" fill="none"/><line x1="27.5" y1="42.9" x2="293.5" y2="42.9" stroke="#c6c6c6" stroke-width="1.5"/><line x1="27.5" y1="42.9" x2="27.5" y2="388.2" stroke="#d6d6d6" stroke-width="1.1"/><line x1="293.5" y1="42.9" x2="293.5" y2="388.2" stroke="#c8c8c8" stroke-width="1.3"/><line x1="27.5" y1="388.2" x2="293.5" y2="388.2" stroke="#cdcdcd" stroke-width="1.3"/><line x1="59.3" y1="388.2" x2="59.3" y2="390.0" stroke="#999" stroke-width="0.8"/><text x="59.3" y="395.7" font-size="7.4" text-anchor="middle" fill="#5a5a5a">−0.50</text><line x1="109.9" y1="388.2" x2="109.9" y2="390.0" stroke="#999" stroke-width="0.8"/><text x="109.9" y="395.7" font-size="7.4" text-anchor="middle" fill="#5a5a5a">−0.25</text><line x1="160.5" y1="388.2" x2="160.5" y2="390.0" stroke="#999" stroke-width="0.8"/><text x="160.5" y="395.7" font-size="7.4" text-anchor="middle" fill="#5a5a5a">0.00</text><line x1="211.1" y1="388.2" x2="211.1" y2="390.0" stroke="#999" stroke-width="0.8"/><text x="211.1" y="395.7" font-size="7.4" text-anchor="middle" fill="#5a5a5a">0.25</text><line x1="261.7" y1="388.2" x2="261.7" y2="390.0" stroke="#999" stroke-width="0.8"/><text x="261.7" y="395.7" font-size="7.4" text-anchor="middle" fill="#5a5a5a">0.50</text><line x1="25.7" y1="372.8" x2="27.5" y2="372.8" stroke="#999" stroke-width="0.8"/><text x="24.9" y="375.4" font-size="7.4" text-anchor="end" fill="#5a5a5a">0</text><line x1="25.7" y1="304.4" x2="27.5" y2="304.4" stroke="#999" stroke-width="0.8"/><text x="24.9" y="307.0" font-size="7.4" text-anchor="end" fill="#5a5a5a">5</text><line x1="25.7" y1="236.0" x2="27.5" y2="236.0" stroke="#999" stroke-width="0.8"/><text x="24.9" y="238.7" font-size="7.4" text-anchor="end" fill="#5a5a5a">10</text><line x1="25.7" y1="167.6" x2="27.5" y2="167.6" stroke="#999" stroke-width="0.8"/><text x="24.9" y="170.3" font-size="7.4" text-anchor="end" fill="#5a5a5a">15</text><line x1="25.7" y1="99.2" x2="27.5" y2="99.2" stroke="#999" stroke-width="0.8"/><text x="24.9" y="101.9" font-size="7.4" text-anchor="end" fill="#5a5a5a">20</text><line x1="334.0" y1="42.9" x2="603.3" y2="42.9" stroke="#c6c6c6" stroke-width="1.5"/><line x1="334.0" y1="42.9" x2="334.0" y2="388.0" stroke="#d6d6d6" stroke-width="1.1"/><line x1="603.3" y1="42.9" x2="603.3" y2="388.0" stroke="#c8c8c8" stroke-width="1.3"/><line x1="334.0" y1="388.0" x2="603.3" y2="388.0" stroke="#cdcdcd" stroke-width="1.3"/><line x1="366.8" y1="388.0" x2="366.8" y2="389.8" stroke="#999" stroke-width="0.8"/><text x="366.8" y="395.5" font-size="7.4" text-anchor="middle" fill="#5a5a5a">−0.50</text><line x1="417.8" y1="388.0" x2="417.8" y2="389.8" stroke="#999" stroke-width="0.8"/><text x="417.8" y="395.5" font-size="7.4" text-anchor="middle" fill="#5a5a5a">−0.25</text><line x1="468.8" y1="388.0" x2="468.8" y2="389.8" stroke="#999" stroke-width="0.8"/><text x="468.8" y="395.5" font-size="7.4" text-anchor="middle" fill="#5a5a5a">0.00</text><line x1="519.8" y1="388.0" x2="519.8" y2="389.8" stroke="#999" stroke-width="0.8"/><text x="519.8" y="395.5" font-size="7.4" text-anchor="middle" fill="#5a5a5a">0.25</text><line x1="570.8" y1="388.0" x2="570.8" y2="389.8" stroke="#999" stroke-width="0.8"/><text x="570.8" y="395.5" font-size="7.4" text-anchor="middle" fill="#5a5a5a">0.50</text><line x1="332.2" y1="372.8" x2="334.0" y2="372.8" stroke="#999" stroke-width="0.8"/><text x="331.4" y="375.4" font-size="7.4" text-anchor="end" fill="#5a5a5a">0</text><line x1="332.2" y1="266.5" x2="334.0" y2="266.5" stroke="#999" stroke-width="0.8"/><text x="331.4" y="269.2" font-size="7.4" text-anchor="end" fill="#5a5a5a">2</text><line x1="332.2" y1="160.2" x2="334.0" y2="160.2" stroke="#999" stroke-width="0.8"/><text x="331.4" y="162.9" font-size="7.4" text-anchor="end" fill="#5a5a5a">4</text><line x1="332.2" y1="54.0" x2="334.0" y2="54.0" stroke="#999" stroke-width="0.8"/><text x="331.4" y="56.7" font-size="7.4" text-anchor="end" fill="#5a5a5a">6</text><line x1="27.3" y1="507.9" x2="292.9" y2="507.9" stroke="#c6c6c6" stroke-width="1.5"/><line x1="27.3" y1="507.9" x2="27.3" y2="703.9" stroke="#d6d6d6" stroke-width="1.1"/><line x1="292.9" y1="507.9" x2="292.9" y2="703.9" stroke="#c8c8c8" stroke-width="1.3"/><line x1="27.3" y1="703.9" x2="292.9" y2="703.9" stroke="#cdcdcd" stroke-width="1.3"/><line x1="63.7" y1="703.9" x2="63.7" y2="705.7" stroke="#999" stroke-width="0.8"/><text x="63.7" y="710.0" font-size="5.4" text-anchor="middle" fill="#5a5a5a">−0.2</text><line x1="112.1" y1="703.9" x2="112.1" y2="705.7" stroke="#999" stroke-width="0.8"/><text x="112.1" y="710.0" font-size="5.4" text-anchor="middle" fill="#5a5a5a">−0.1</text><line x1="160.5" y1="703.9" x2="160.5" y2="705.7" stroke="#999" stroke-width="0.8"/><text x="160.5" y="710.0" font-size="5.4" text-anchor="middle" fill="#5a5a5a">0.0</text><line x1="208.9" y1="703.9" x2="208.9" y2="705.7" stroke="#999" stroke-width="0.8"/><text x="208.9" y="710.0" font-size="5.4" text-anchor="middle" fill="#5a5a5a">0.1</text><line x1="257.3" y1="703.9" x2="257.3" y2="705.7" stroke="#999" stroke-width="0.8"/><text x="257.3" y="710.0" font-size="5.4" text-anchor="middle" fill="#5a5a5a">0.2</text><line x1="25.5" y1="695.4" x2="27.3" y2="695.4" stroke="#999" stroke-width="0.8"/><text x="24.7" y="697.3" font-size="5.4" text-anchor="end" fill="#5a5a5a">0.0</text><line x1="25.5" y1="653.0" x2="27.3" y2="653.0" stroke="#999" stroke-width="0.8"/><text x="24.7" y="654.9" font-size="5.4" text-anchor="end" fill="#5a5a5a">2.5</text><line x1="25.5" y1="610.5" x2="27.3" y2="610.5" stroke="#999" stroke-width="0.8"/><text x="24.7" y="612.5" font-size="5.4" text-anchor="end" fill="#5a5a5a">5.0</text><line x1="25.5" y1="568.1" x2="27.3" y2="568.1" stroke="#999" stroke-width="0.8"/><text x="24.7" y="570.1" font-size="5.4" text-anchor="end" fill="#5a5a5a">7.5</text><line x1="25.5" y1="525.7" x2="27.3" y2="525.7" stroke="#999" stroke-width="0.8"/><text x="24.7" y="527.6" font-size="5.4" text-anchor="end" fill="#5a5a5a">10.0</text><line x1="329.8" y1="507.8" x2="603.0" y2="507.8" stroke="#c6c6c6" stroke-width="1.5"/><line x1="329.8" y1="507.8" x2="329.8" y2="704.2" stroke="#d6d6d6" stroke-width="1.1"/><line x1="603.0" y1="507.8" x2="603.0" y2="704.2" stroke="#c8c8c8" stroke-width="1.3"/><line x1="329.8" y1="704.2" x2="603.0" y2="704.2" stroke="#cdcdcd" stroke-width="1.3"/><line x1="367.4" y1="704.2" x2="367.4" y2="706.0" stroke="#999" stroke-width="0.8"/><text x="367.4" y="710.3" font-size="5.4" text-anchor="middle" fill="#5a5a5a">−0.4</text><line x1="417.1" y1="704.2" x2="417.1" y2="706.0" stroke="#999" stroke-width="0.8"/><text x="417.1" y="710.3" font-size="5.4" text-anchor="middle" fill="#5a5a5a">−0.2</text><line x1="466.8" y1="704.2" x2="466.8" y2="706.0" stroke="#999" stroke-width="0.8"/><text x="466.8" y="710.3" font-size="5.4" text-anchor="middle" fill="#5a5a5a">0.0</text><line x1="516.5" y1="704.2" x2="516.5" y2="706.0" stroke="#999" stroke-width="0.8"/><text x="516.5" y="710.3" font-size="5.4" text-anchor="middle" fill="#5a5a5a">0.2</text><line x1="566.2" y1="704.2" x2="566.2" y2="706.0" stroke="#999" stroke-width="0.8"/><text x="566.2" y="710.3" font-size="5.4" text-anchor="middle" fill="#5a5a5a">0.4</text><line x1="328.0" y1="695.4" x2="329.8" y2="695.4" stroke="#999" stroke-width="0.8"/><text x="327.2" y="697.3" font-size="5.4" text-anchor="end" fill="#5a5a5a">0</text><line x1="328.0" y1="635.3" x2="329.8" y2="635.3" stroke="#999" stroke-width="0.8"/><text x="327.2" y="637.2" font-size="5.4" text-anchor="end" fill="#5a5a5a">1</text><line x1="328.0" y1="575.2" x2="329.8" y2="575.2" stroke="#999" stroke-width="0.8"/><text x="327.2" y="577.1" font-size="5.4" text-anchor="end" fill="#5a5a5a">2</text><line x1="328.0" y1="515.1" x2="329.8" y2="515.1" stroke="#999" stroke-width="0.8"/><text x="327.2" y="517.0" font-size="5.4" text-anchor="end" fill="#5a5a5a">3</text><text x="160.6" y="405.2" font-size="8.6" text-anchor="middle" fill="#222">logFC</text><text transform="translate(14.2,214.6) rotate(-90) scale(0.95,0.9)" font-size="8.6" text-anchor="middle" fill="#222">−log10(P−value)</text><text x="468.8" y="405.2" font-size="8.6" text-anchor="middle" fill="#222">logFC</text><text transform="translate(325.3,214.7) rotate(-90) scale(0.95,0.9)" font-size="8.6" text-anchor="middle" fill="#222">−log10(P−value)</text><text x="160.5" y="716.5" font-size="6.8" text-anchor="middle" fill="#222">logFC</text><text transform="translate(11.1,605.8) rotate(-90) scale(0.94,0.85)" font-size="6.8" text-anchor="middle" fill="#222">−log10(P−value)</text><text x="466.8" y="716.5" font-size="6.8" text-anchor="middle" fill="#222">logFC</text><text transform="translate(322.2,605.8) rotate(-90) scale(0.94,0.85)" font-size="6.8" text-anchor="middle" fill="#222">−log10(P−value)</text><text transform="translate(4.6,18.8) scale(0.92,1)" font-family="Liberation Serif" font-weight="bold" font-size="21.5" fill="#000">A</text><text transform="translate(315.8,17.8) scale(0.92,1)" font-family="Liberation Serif" font-weight="bold" font-size="21.5" fill="#000">B</text><text transform="translate(4.6,465) scale(0.92,1)" font-family="Liberation Serif" font-weight="bold" font-size="21.5" fill="#000">C</text><text transform="translate(316.3,464.8) scale(0.92,1)" font-family="Liberation Serif" font-weight="bold" font-size="21.5" fill="#000">D</text></svg></body></html>
